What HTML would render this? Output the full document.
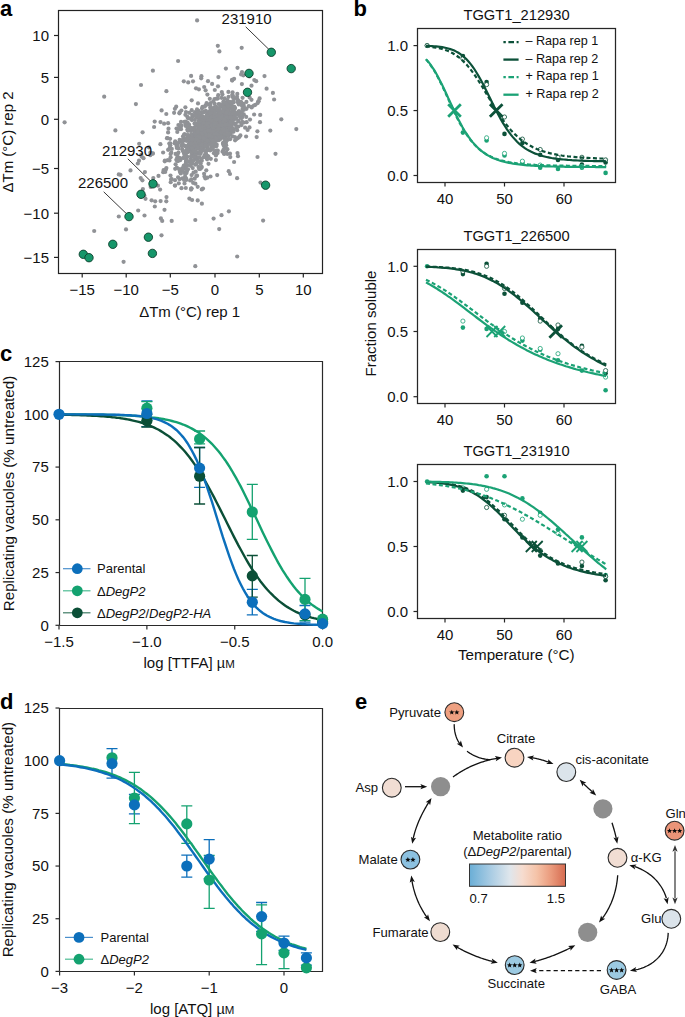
<!DOCTYPE html>
<html><head><meta charset="utf-8"><style>
html,body{margin:0;padding:0;background:#fff;}
svg{display:block;font-family:"Liberation Sans", sans-serif;}
</style></head><body>
<svg width="685" height="1017" viewBox="0 0 685 1017">
<rect width="685" height="1017" fill="#fff"/>
<text x="0" y="15.6" font-size="22" text-anchor="start" fill="#000" font-weight="bold" font-style="normal" >a</text>
<rect x="58.5" y="10.5" width="264.0" height="263.0" fill="none" stroke="#222" stroke-width="1.2"/>
<line x1="82.2" y1="273.5" x2="82.2" y2="277.5" stroke="#222" stroke-width="1.2" />
<text x="82.2" y="295.2" font-size="15" text-anchor="middle" fill="#111" font-weight="normal" font-style="normal" >−15</text>
<line x1="126.2" y1="273.5" x2="126.2" y2="277.5" stroke="#222" stroke-width="1.2" />
<text x="126.2" y="295.2" font-size="15" text-anchor="middle" fill="#111" font-weight="normal" font-style="normal" >−10</text>
<line x1="170.3" y1="273.5" x2="170.3" y2="277.5" stroke="#222" stroke-width="1.2" />
<text x="170.3" y="295.2" font-size="15" text-anchor="middle" fill="#111" font-weight="normal" font-style="normal" >−5</text>
<line x1="215" y1="273.5" x2="215" y2="277.5" stroke="#222" stroke-width="1.2" />
<text x="215" y="295.2" font-size="15" text-anchor="middle" fill="#111" font-weight="normal" font-style="normal" >0</text>
<line x1="259.3" y1="273.5" x2="259.3" y2="277.5" stroke="#222" stroke-width="1.2" />
<text x="259.3" y="295.2" font-size="15" text-anchor="middle" fill="#111" font-weight="normal" font-style="normal" >5</text>
<line x1="303.3" y1="273.5" x2="303.3" y2="277.5" stroke="#222" stroke-width="1.2" />
<text x="303.3" y="295.2" font-size="15" text-anchor="middle" fill="#111" font-weight="normal" font-style="normal" >10</text>
<line x1="54" y1="35.5" x2="58.5" y2="35.5" stroke="#222" stroke-width="1.2" />
<text x="49" y="40.8" font-size="15" text-anchor="end" fill="#111" font-weight="normal" font-style="normal" >10</text>
<line x1="54" y1="77.4" x2="58.5" y2="77.4" stroke="#222" stroke-width="1.2" />
<text x="49" y="82.7" font-size="15" text-anchor="end" fill="#111" font-weight="normal" font-style="normal" >5</text>
<line x1="54" y1="119.3" x2="58.5" y2="119.3" stroke="#222" stroke-width="1.2" />
<text x="49" y="124.6" font-size="15" text-anchor="end" fill="#111" font-weight="normal" font-style="normal" >0</text>
<line x1="54" y1="168.5" x2="58.5" y2="168.5" stroke="#222" stroke-width="1.2" />
<text x="49" y="173.8" font-size="15" text-anchor="end" fill="#111" font-weight="normal" font-style="normal" >−5</text>
<line x1="54" y1="213.2" x2="58.5" y2="213.2" stroke="#222" stroke-width="1.2" />
<text x="49" y="218.5" font-size="15" text-anchor="end" fill="#111" font-weight="normal" font-style="normal" >−10</text>
<line x1="54" y1="257.4" x2="58.5" y2="257.4" stroke="#222" stroke-width="1.2" />
<text x="49" y="262.7" font-size="15" text-anchor="end" fill="#111" font-weight="normal" font-style="normal" >−15</text>
<text x="189.7" y="316.6" font-size="15" text-anchor="middle" fill="#111" font-weight="normal" font-style="normal" >ΔTm (°C) rep 1</text>
<text transform="translate(12.6,142) rotate(-90)" x="0" y="0" font-size="15" text-anchor="middle" fill="#111">ΔTm (°C) rep 2</text>
<g fill="#909296">
<circle cx="209.4" cy="122.2" r="2.1"/>
<circle cx="218.1" cy="124.0" r="2.1"/>
<circle cx="207.3" cy="128.3" r="2.1"/>
<circle cx="199.8" cy="138.2" r="2.1"/>
<circle cx="203.2" cy="128.7" r="2.1"/>
<circle cx="198.7" cy="140.1" r="2.1"/>
<circle cx="207.3" cy="117.8" r="2.1"/>
<circle cx="230.0" cy="108.3" r="2.1"/>
<circle cx="204.0" cy="130.9" r="2.1"/>
<circle cx="202.1" cy="132.5" r="2.1"/>
<circle cx="228.1" cy="131.1" r="2.1"/>
<circle cx="219.2" cy="123.6" r="2.1"/>
<circle cx="216.1" cy="127.6" r="2.1"/>
<circle cx="198.7" cy="138.0" r="2.1"/>
<circle cx="220.2" cy="137.3" r="2.1"/>
<circle cx="214.3" cy="108.2" r="2.1"/>
<circle cx="193.3" cy="144.3" r="2.1"/>
<circle cx="213.2" cy="141.9" r="2.1"/>
<circle cx="195.2" cy="164.7" r="2.1"/>
<circle cx="196.2" cy="146.3" r="2.1"/>
<circle cx="187.2" cy="152.3" r="2.1"/>
<circle cx="213.8" cy="135.4" r="2.1"/>
<circle cx="194.5" cy="143.3" r="2.1"/>
<circle cx="220.6" cy="128.2" r="2.1"/>
<circle cx="212.5" cy="121.1" r="2.1"/>
<circle cx="214.5" cy="134.8" r="2.1"/>
<circle cx="177.2" cy="160.9" r="2.1"/>
<circle cx="200.1" cy="127.3" r="2.1"/>
<circle cx="198.5" cy="110.9" r="2.1"/>
<circle cx="220.3" cy="132.9" r="2.1"/>
<circle cx="193.7" cy="150.8" r="2.1"/>
<circle cx="210.9" cy="139.5" r="2.1"/>
<circle cx="194.9" cy="134.6" r="2.1"/>
<circle cx="207.8" cy="146.1" r="2.1"/>
<circle cx="231.0" cy="117.0" r="2.1"/>
<circle cx="201.8" cy="138.1" r="2.1"/>
<circle cx="218.1" cy="134.6" r="2.1"/>
<circle cx="231.0" cy="122.3" r="2.1"/>
<circle cx="207.4" cy="138.3" r="2.1"/>
<circle cx="223.0" cy="143.7" r="2.1"/>
<circle cx="222.6" cy="136.1" r="2.1"/>
<circle cx="216.4" cy="129.3" r="2.1"/>
<circle cx="194.8" cy="142.4" r="2.1"/>
<circle cx="215.3" cy="127.5" r="2.1"/>
<circle cx="242.2" cy="121.8" r="2.1"/>
<circle cx="193.5" cy="151.0" r="2.1"/>
<circle cx="221.2" cy="111.4" r="2.1"/>
<circle cx="211.9" cy="121.6" r="2.1"/>
<circle cx="204.4" cy="136.3" r="2.1"/>
<circle cx="246.5" cy="108.8" r="2.1"/>
<circle cx="220.7" cy="113.5" r="2.1"/>
<circle cx="199.1" cy="147.2" r="2.1"/>
<circle cx="220.6" cy="134.6" r="2.1"/>
<circle cx="225.8" cy="125.3" r="2.1"/>
<circle cx="202.6" cy="119.3" r="2.1"/>
<circle cx="221.8" cy="116.9" r="2.1"/>
<circle cx="205.9" cy="119.8" r="2.1"/>
<circle cx="225.3" cy="121.7" r="2.1"/>
<circle cx="228.7" cy="104.0" r="2.1"/>
<circle cx="206.8" cy="140.5" r="2.1"/>
<circle cx="217.0" cy="125.6" r="2.1"/>
<circle cx="193.0" cy="116.1" r="2.1"/>
<circle cx="210.9" cy="120.0" r="2.1"/>
<circle cx="198.9" cy="146.5" r="2.1"/>
<circle cx="205.3" cy="135.5" r="2.1"/>
<circle cx="208.6" cy="127.4" r="2.1"/>
<circle cx="219.5" cy="108.5" r="2.1"/>
<circle cx="232.2" cy="116.0" r="2.1"/>
<circle cx="203.7" cy="157.2" r="2.1"/>
<circle cx="203.3" cy="139.7" r="2.1"/>
<circle cx="222.4" cy="118.6" r="2.1"/>
<circle cx="184.0" cy="152.9" r="2.1"/>
<circle cx="199.4" cy="123.9" r="2.1"/>
<circle cx="210.1" cy="126.2" r="2.1"/>
<circle cx="226.7" cy="106.8" r="2.1"/>
<circle cx="229.0" cy="125.9" r="2.1"/>
<circle cx="203.8" cy="125.3" r="2.1"/>
<circle cx="196.5" cy="117.4" r="2.1"/>
<circle cx="205.4" cy="125.0" r="2.1"/>
<circle cx="233.6" cy="107.2" r="2.1"/>
<circle cx="206.2" cy="131.8" r="2.1"/>
<circle cx="199.1" cy="118.5" r="2.1"/>
<circle cx="223.3" cy="129.1" r="2.1"/>
<circle cx="212.1" cy="129.6" r="2.1"/>
<circle cx="207.9" cy="126.5" r="2.1"/>
<circle cx="193.1" cy="136.6" r="2.1"/>
<circle cx="215.4" cy="130.5" r="2.1"/>
<circle cx="205.2" cy="130.9" r="2.1"/>
<circle cx="231.4" cy="114.5" r="2.1"/>
<circle cx="221.9" cy="117.9" r="2.1"/>
<circle cx="213.6" cy="128.4" r="2.1"/>
<circle cx="228.9" cy="126.5" r="2.1"/>
<circle cx="208.4" cy="131.8" r="2.1"/>
<circle cx="223.5" cy="108.8" r="2.1"/>
<circle cx="218.4" cy="134.2" r="2.1"/>
<circle cx="222.8" cy="121.1" r="2.1"/>
<circle cx="191.0" cy="139.6" r="2.1"/>
<circle cx="224.0" cy="130.2" r="2.1"/>
<circle cx="187.9" cy="148.3" r="2.1"/>
<circle cx="189.7" cy="161.8" r="2.1"/>
<circle cx="202.6" cy="123.1" r="2.1"/>
<circle cx="187.6" cy="122.6" r="2.1"/>
<circle cx="204.5" cy="111.8" r="2.1"/>
<circle cx="246.4" cy="101.9" r="2.1"/>
<circle cx="197.2" cy="132.9" r="2.1"/>
<circle cx="203.6" cy="134.6" r="2.1"/>
<circle cx="215.6" cy="123.7" r="2.1"/>
<circle cx="211.9" cy="111.0" r="2.1"/>
<circle cx="217.9" cy="139.0" r="2.1"/>
<circle cx="204.5" cy="122.4" r="2.1"/>
<circle cx="223.5" cy="118.4" r="2.1"/>
<circle cx="213.0" cy="111.5" r="2.1"/>
<circle cx="197.3" cy="139.6" r="2.1"/>
<circle cx="215.7" cy="133.0" r="2.1"/>
<circle cx="212.2" cy="124.7" r="2.1"/>
<circle cx="194.0" cy="135.9" r="2.1"/>
<circle cx="216.7" cy="123.5" r="2.1"/>
<circle cx="198.2" cy="135.1" r="2.1"/>
<circle cx="229.9" cy="118.2" r="2.1"/>
<circle cx="227.5" cy="139.9" r="2.1"/>
<circle cx="209.6" cy="119.5" r="2.1"/>
<circle cx="200.9" cy="130.0" r="2.1"/>
<circle cx="210.7" cy="127.7" r="2.1"/>
<circle cx="184.1" cy="153.2" r="2.1"/>
<circle cx="191.3" cy="134.8" r="2.1"/>
<circle cx="220.9" cy="125.6" r="2.1"/>
<circle cx="186.5" cy="160.5" r="2.1"/>
<circle cx="226.3" cy="117.6" r="2.1"/>
<circle cx="181.6" cy="141.8" r="2.1"/>
<circle cx="231.5" cy="127.1" r="2.1"/>
<circle cx="194.5" cy="129.9" r="2.1"/>
<circle cx="227.8" cy="121.4" r="2.1"/>
<circle cx="221.0" cy="133.3" r="2.1"/>
<circle cx="184.2" cy="138.6" r="2.1"/>
<circle cx="231.6" cy="112.5" r="2.1"/>
<circle cx="240.8" cy="117.6" r="2.1"/>
<circle cx="214.2" cy="130.6" r="2.1"/>
<circle cx="204.2" cy="124.1" r="2.1"/>
<circle cx="204.4" cy="120.8" r="2.1"/>
<circle cx="201.5" cy="143.2" r="2.1"/>
<circle cx="226.7" cy="111.1" r="2.1"/>
<circle cx="201.5" cy="129.3" r="2.1"/>
<circle cx="216.0" cy="132.5" r="2.1"/>
<circle cx="199.9" cy="135.2" r="2.1"/>
<circle cx="204.4" cy="135.7" r="2.1"/>
<circle cx="197.8" cy="148.0" r="2.1"/>
<circle cx="233.8" cy="114.8" r="2.1"/>
<circle cx="210.6" cy="128.7" r="2.1"/>
<circle cx="226.8" cy="114.9" r="2.1"/>
<circle cx="216.5" cy="131.0" r="2.1"/>
<circle cx="205.6" cy="139.4" r="2.1"/>
<circle cx="202.4" cy="123.5" r="2.1"/>
<circle cx="204.0" cy="133.1" r="2.1"/>
<circle cx="208.5" cy="120.7" r="2.1"/>
<circle cx="201.3" cy="123.6" r="2.1"/>
<circle cx="205.7" cy="126.9" r="2.1"/>
<circle cx="181.0" cy="129.2" r="2.1"/>
<circle cx="206.1" cy="143.8" r="2.1"/>
<circle cx="232.4" cy="102.4" r="2.1"/>
<circle cx="205.3" cy="138.4" r="2.1"/>
<circle cx="187.9" cy="127.9" r="2.1"/>
<circle cx="208.8" cy="111.8" r="2.1"/>
<circle cx="243.9" cy="122.5" r="2.1"/>
<circle cx="197.6" cy="153.4" r="2.1"/>
<circle cx="206.6" cy="125.2" r="2.1"/>
<circle cx="199.8" cy="129.9" r="2.1"/>
<circle cx="183.9" cy="145.3" r="2.1"/>
<circle cx="224.1" cy="118.1" r="2.1"/>
<circle cx="210.4" cy="124.2" r="2.1"/>
<circle cx="210.7" cy="121.5" r="2.1"/>
<circle cx="202.8" cy="137.7" r="2.1"/>
<circle cx="214.1" cy="114.6" r="2.1"/>
<circle cx="217.8" cy="150.5" r="2.1"/>
<circle cx="207.7" cy="124.5" r="2.1"/>
<circle cx="202.9" cy="149.3" r="2.1"/>
<circle cx="190.5" cy="136.5" r="2.1"/>
<circle cx="233.5" cy="112.3" r="2.1"/>
<circle cx="210.8" cy="140.3" r="2.1"/>
<circle cx="215.4" cy="120.6" r="2.1"/>
<circle cx="217.7" cy="134.1" r="2.1"/>
<circle cx="211.9" cy="139.6" r="2.1"/>
<circle cx="214.5" cy="145.1" r="2.1"/>
<circle cx="222.4" cy="119.0" r="2.1"/>
<circle cx="206.2" cy="127.6" r="2.1"/>
<circle cx="205.4" cy="121.9" r="2.1"/>
<circle cx="214.3" cy="127.9" r="2.1"/>
<circle cx="224.3" cy="106.3" r="2.1"/>
<circle cx="222.8" cy="118.2" r="2.1"/>
<circle cx="219.2" cy="122.8" r="2.1"/>
<circle cx="202.0" cy="130.6" r="2.1"/>
<circle cx="187.6" cy="137.9" r="2.1"/>
<circle cx="228.6" cy="117.3" r="2.1"/>
<circle cx="228.3" cy="116.6" r="2.1"/>
<circle cx="212.1" cy="130.2" r="2.1"/>
<circle cx="220.5" cy="119.4" r="2.1"/>
<circle cx="229.2" cy="123.2" r="2.1"/>
<circle cx="219.5" cy="110.3" r="2.1"/>
<circle cx="228.5" cy="118.0" r="2.1"/>
<circle cx="204.1" cy="129.9" r="2.1"/>
<circle cx="239.3" cy="113.9" r="2.1"/>
<circle cx="193.3" cy="141.2" r="2.1"/>
<circle cx="223.4" cy="113.9" r="2.1"/>
<circle cx="222.5" cy="123.6" r="2.1"/>
<circle cx="214.7" cy="103.8" r="2.1"/>
<circle cx="238.0" cy="102.5" r="2.1"/>
<circle cx="224.8" cy="98.4" r="2.1"/>
<circle cx="191.5" cy="135.5" r="2.1"/>
<circle cx="192.5" cy="154.3" r="2.1"/>
<circle cx="226.9" cy="119.1" r="2.1"/>
<circle cx="196.2" cy="137.5" r="2.1"/>
<circle cx="212.7" cy="126.9" r="2.1"/>
<circle cx="224.9" cy="116.2" r="2.1"/>
<circle cx="191.1" cy="151.1" r="2.1"/>
<circle cx="192.7" cy="168.1" r="2.1"/>
<circle cx="218.1" cy="125.3" r="2.1"/>
<circle cx="225.9" cy="142.5" r="2.1"/>
<circle cx="207.6" cy="127.8" r="2.1"/>
<circle cx="217.7" cy="131.9" r="2.1"/>
<circle cx="204.7" cy="143.7" r="2.1"/>
<circle cx="192.6" cy="148.8" r="2.1"/>
<circle cx="209.3" cy="127.4" r="2.1"/>
<circle cx="207.1" cy="150.3" r="2.1"/>
<circle cx="199.1" cy="161.5" r="2.1"/>
<circle cx="226.2" cy="128.1" r="2.1"/>
<circle cx="223.4" cy="142.6" r="2.1"/>
<circle cx="224.3" cy="128.7" r="2.1"/>
<circle cx="190.3" cy="128.9" r="2.1"/>
<circle cx="209.5" cy="143.5" r="2.1"/>
<circle cx="195.3" cy="135.8" r="2.1"/>
<circle cx="207.9" cy="148.8" r="2.1"/>
<circle cx="214.4" cy="122.4" r="2.1"/>
<circle cx="203.7" cy="139.9" r="2.1"/>
<circle cx="218.6" cy="122.9" r="2.1"/>
<circle cx="215.0" cy="118.7" r="2.1"/>
<circle cx="232.6" cy="92.4" r="2.1"/>
<circle cx="192.1" cy="144.3" r="2.1"/>
<circle cx="225.2" cy="115.2" r="2.1"/>
<circle cx="217.2" cy="135.3" r="2.1"/>
<circle cx="209.8" cy="123.2" r="2.1"/>
<circle cx="193.7" cy="148.2" r="2.1"/>
<circle cx="202.1" cy="127.3" r="2.1"/>
<circle cx="224.1" cy="117.9" r="2.1"/>
<circle cx="202.5" cy="116.3" r="2.1"/>
<circle cx="225.1" cy="140.3" r="2.1"/>
<circle cx="210.7" cy="133.2" r="2.1"/>
<circle cx="224.9" cy="107.6" r="2.1"/>
<circle cx="214.8" cy="130.0" r="2.1"/>
<circle cx="185.9" cy="162.1" r="2.1"/>
<circle cx="204.7" cy="138.3" r="2.1"/>
<circle cx="192.4" cy="163.2" r="2.1"/>
<circle cx="165.9" cy="169.4" r="2.1"/>
<circle cx="192.3" cy="117.1" r="2.1"/>
<circle cx="226.0" cy="103.9" r="2.1"/>
<circle cx="219.9" cy="134.5" r="2.1"/>
<circle cx="201.1" cy="149.0" r="2.1"/>
<circle cx="201.9" cy="142.6" r="2.1"/>
<circle cx="223.9" cy="107.1" r="2.1"/>
<circle cx="219.9" cy="131.0" r="2.1"/>
<circle cx="217.6" cy="131.5" r="2.1"/>
<circle cx="207.6" cy="121.5" r="2.1"/>
<circle cx="209.0" cy="120.5" r="2.1"/>
<circle cx="226.7" cy="119.2" r="2.1"/>
<circle cx="227.2" cy="127.8" r="2.1"/>
<circle cx="224.7" cy="135.4" r="2.1"/>
<circle cx="202.0" cy="146.0" r="2.1"/>
<circle cx="232.6" cy="136.4" r="2.1"/>
<circle cx="199.3" cy="130.9" r="2.1"/>
<circle cx="232.2" cy="117.5" r="2.1"/>
<circle cx="192.3" cy="140.6" r="2.1"/>
<circle cx="201.0" cy="116.2" r="2.1"/>
<circle cx="206.7" cy="118.9" r="2.1"/>
<circle cx="200.4" cy="153.0" r="2.1"/>
<circle cx="233.1" cy="101.2" r="2.1"/>
<circle cx="227.8" cy="102.4" r="2.1"/>
<circle cx="210.6" cy="138.7" r="2.1"/>
<circle cx="229.4" cy="123.7" r="2.1"/>
<circle cx="219.2" cy="122.9" r="2.1"/>
<circle cx="184.4" cy="172.9" r="2.1"/>
<circle cx="208.8" cy="114.2" r="2.1"/>
<circle cx="225.4" cy="145.2" r="2.1"/>
<circle cx="220.4" cy="134.0" r="2.1"/>
<circle cx="199.2" cy="143.4" r="2.1"/>
<circle cx="210.6" cy="132.4" r="2.1"/>
<circle cx="209.7" cy="128.4" r="2.1"/>
<circle cx="228.7" cy="110.9" r="2.1"/>
<circle cx="219.2" cy="124.3" r="2.1"/>
<circle cx="206.9" cy="119.1" r="2.1"/>
<circle cx="246.6" cy="122.2" r="2.1"/>
<circle cx="205.2" cy="134.5" r="2.1"/>
<circle cx="211.5" cy="137.5" r="2.1"/>
<circle cx="186.4" cy="150.4" r="2.1"/>
<circle cx="234.4" cy="106.9" r="2.1"/>
<circle cx="231.9" cy="120.9" r="2.1"/>
<circle cx="229.8" cy="119.6" r="2.1"/>
<circle cx="218.5" cy="113.6" r="2.1"/>
<circle cx="212.9" cy="123.2" r="2.1"/>
<circle cx="220.0" cy="129.2" r="2.1"/>
<circle cx="198.5" cy="116.4" r="2.1"/>
<circle cx="197.7" cy="114.2" r="2.1"/>
<circle cx="221.9" cy="136.9" r="2.1"/>
<circle cx="233.1" cy="107.1" r="2.1"/>
<circle cx="207.5" cy="104.4" r="2.1"/>
<circle cx="208.1" cy="122.3" r="2.1"/>
<circle cx="203.7" cy="133.3" r="2.1"/>
<circle cx="205.2" cy="137.1" r="2.1"/>
<circle cx="239.0" cy="111.2" r="2.1"/>
<circle cx="221.6" cy="122.0" r="2.1"/>
<circle cx="217.2" cy="130.2" r="2.1"/>
<circle cx="204.2" cy="126.4" r="2.1"/>
<circle cx="199.4" cy="144.8" r="2.1"/>
<circle cx="214.7" cy="131.2" r="2.1"/>
<circle cx="232.2" cy="124.2" r="2.1"/>
<circle cx="207.8" cy="132.7" r="2.1"/>
<circle cx="214.8" cy="136.6" r="2.1"/>
<circle cx="211.0" cy="131.4" r="2.1"/>
<circle cx="209.1" cy="118.4" r="2.1"/>
<circle cx="188.3" cy="145.7" r="2.1"/>
<circle cx="207.1" cy="126.7" r="2.1"/>
<circle cx="199.0" cy="136.0" r="2.1"/>
<circle cx="225.5" cy="115.6" r="2.1"/>
<circle cx="202.8" cy="138.3" r="2.1"/>
<circle cx="223.1" cy="121.7" r="2.1"/>
<circle cx="230.8" cy="104.1" r="2.1"/>
<circle cx="214.6" cy="139.1" r="2.1"/>
<circle cx="197.2" cy="125.6" r="2.1"/>
<circle cx="215.8" cy="124.4" r="2.1"/>
<circle cx="217.2" cy="132.6" r="2.1"/>
<circle cx="201.6" cy="143.9" r="2.1"/>
<circle cx="223.5" cy="125.9" r="2.1"/>
<circle cx="241.1" cy="102.2" r="2.1"/>
<circle cx="213.4" cy="135.7" r="2.1"/>
<circle cx="204.1" cy="121.7" r="2.1"/>
<circle cx="202.5" cy="146.6" r="2.1"/>
<circle cx="230.1" cy="139.2" r="2.1"/>
<circle cx="199.3" cy="149.0" r="2.1"/>
<circle cx="208.3" cy="156.3" r="2.1"/>
<circle cx="231.7" cy="111.8" r="2.1"/>
<circle cx="194.4" cy="131.6" r="2.1"/>
<circle cx="225.1" cy="109.8" r="2.1"/>
<circle cx="242.2" cy="116.9" r="2.1"/>
<circle cx="221.0" cy="129.2" r="2.1"/>
<circle cx="211.5" cy="108.9" r="2.1"/>
<circle cx="239.3" cy="102.0" r="2.1"/>
<circle cx="210.4" cy="129.8" r="2.1"/>
<circle cx="198.9" cy="127.5" r="2.1"/>
<circle cx="180.4" cy="127.6" r="2.1"/>
<circle cx="206.7" cy="117.6" r="2.1"/>
<circle cx="233.6" cy="108.4" r="2.1"/>
<circle cx="225.0" cy="113.0" r="2.1"/>
<circle cx="196.3" cy="135.3" r="2.1"/>
<circle cx="204.3" cy="142.9" r="2.1"/>
<circle cx="211.7" cy="141.5" r="2.1"/>
<circle cx="217.1" cy="122.9" r="2.1"/>
<circle cx="215.4" cy="136.7" r="2.1"/>
<circle cx="216.6" cy="124.8" r="2.1"/>
<circle cx="216.9" cy="122.5" r="2.1"/>
<circle cx="196.1" cy="115.1" r="2.1"/>
<circle cx="217.3" cy="133.8" r="2.1"/>
<circle cx="216.8" cy="125.3" r="2.1"/>
<circle cx="212.9" cy="129.5" r="2.1"/>
<circle cx="218.0" cy="117.6" r="2.1"/>
<circle cx="234.2" cy="98.5" r="2.1"/>
<circle cx="224.3" cy="122.8" r="2.1"/>
<circle cx="218.5" cy="132.3" r="2.1"/>
<circle cx="197.9" cy="161.3" r="2.1"/>
<circle cx="223.8" cy="128.7" r="2.1"/>
<circle cx="182.3" cy="149.2" r="2.1"/>
<circle cx="192.7" cy="145.6" r="2.1"/>
<circle cx="230.9" cy="123.1" r="2.1"/>
<circle cx="225.3" cy="120.5" r="2.1"/>
<circle cx="210.9" cy="128.9" r="2.1"/>
<circle cx="185.9" cy="146.3" r="2.1"/>
<circle cx="211.1" cy="136.4" r="2.1"/>
<circle cx="204.8" cy="138.0" r="2.1"/>
<circle cx="232.1" cy="131.7" r="2.1"/>
<circle cx="251.6" cy="107.5" r="2.1"/>
<circle cx="207.5" cy="113.7" r="2.1"/>
<circle cx="213.9" cy="153.2" r="2.1"/>
<circle cx="198.2" cy="145.1" r="2.1"/>
<circle cx="211.2" cy="126.3" r="2.1"/>
<circle cx="212.7" cy="132.2" r="2.1"/>
<circle cx="201.1" cy="148.3" r="2.1"/>
<circle cx="215.2" cy="126.1" r="2.1"/>
<circle cx="196.7" cy="142.5" r="2.1"/>
<circle cx="229.5" cy="113.9" r="2.1"/>
<circle cx="238.5" cy="126.5" r="2.1"/>
<circle cx="229.5" cy="114.6" r="2.1"/>
<circle cx="211.1" cy="139.6" r="2.1"/>
<circle cx="223.5" cy="124.3" r="2.1"/>
<circle cx="210.1" cy="127.3" r="2.1"/>
<circle cx="204.1" cy="127.7" r="2.1"/>
<circle cx="203.4" cy="125.3" r="2.1"/>
<circle cx="197.2" cy="148.0" r="2.1"/>
<circle cx="187.4" cy="139.7" r="2.1"/>
<circle cx="218.2" cy="109.9" r="2.1"/>
<circle cx="204.3" cy="121.6" r="2.1"/>
<circle cx="208.7" cy="115.1" r="2.1"/>
<circle cx="228.3" cy="115.6" r="2.1"/>
<circle cx="189.2" cy="151.4" r="2.1"/>
<circle cx="197.4" cy="131.7" r="2.1"/>
<circle cx="223.1" cy="134.6" r="2.1"/>
<circle cx="217.7" cy="120.5" r="2.1"/>
<circle cx="210.7" cy="136.0" r="2.1"/>
<circle cx="229.9" cy="116.6" r="2.1"/>
<circle cx="225.6" cy="136.8" r="2.1"/>
<circle cx="200.6" cy="149.7" r="2.1"/>
<circle cx="199.9" cy="139.7" r="2.1"/>
<circle cx="219.9" cy="111.5" r="2.1"/>
<circle cx="214.5" cy="114.7" r="2.1"/>
<circle cx="186.3" cy="153.0" r="2.1"/>
<circle cx="233.5" cy="111.9" r="2.1"/>
<circle cx="226.2" cy="125.2" r="2.1"/>
<circle cx="230.2" cy="108.4" r="2.1"/>
<circle cx="209.0" cy="134.0" r="2.1"/>
<circle cx="205.7" cy="126.8" r="2.1"/>
<circle cx="187.4" cy="129.6" r="2.1"/>
<circle cx="249.6" cy="97.5" r="2.1"/>
<circle cx="218.8" cy="140.2" r="2.1"/>
<circle cx="240.5" cy="113.3" r="2.1"/>
<circle cx="211.9" cy="146.2" r="2.1"/>
<circle cx="222.0" cy="133.6" r="2.1"/>
<circle cx="182.0" cy="140.0" r="2.1"/>
<circle cx="206.5" cy="130.6" r="2.1"/>
<circle cx="235.5" cy="125.0" r="2.1"/>
<circle cx="191.6" cy="139.1" r="2.1"/>
<circle cx="221.7" cy="106.2" r="2.1"/>
<circle cx="220.0" cy="125.3" r="2.1"/>
<circle cx="201.9" cy="145.9" r="2.1"/>
<circle cx="207.8" cy="136.3" r="2.1"/>
<circle cx="205.1" cy="131.2" r="2.1"/>
<circle cx="209.0" cy="123.2" r="2.1"/>
<circle cx="199.0" cy="125.8" r="2.1"/>
<circle cx="194.7" cy="129.5" r="2.1"/>
<circle cx="202.4" cy="122.7" r="2.1"/>
<circle cx="191.0" cy="131.1" r="2.1"/>
<circle cx="191.1" cy="139.6" r="2.1"/>
<circle cx="220.8" cy="138.8" r="2.1"/>
<circle cx="226.5" cy="116.8" r="2.1"/>
<circle cx="189.5" cy="145.2" r="2.1"/>
<circle cx="215.4" cy="129.9" r="2.1"/>
<circle cx="198.9" cy="129.3" r="2.1"/>
<circle cx="201.1" cy="142.7" r="2.1"/>
<circle cx="230.4" cy="122.5" r="2.1"/>
<circle cx="197.9" cy="123.7" r="2.1"/>
<circle cx="231.0" cy="105.0" r="2.1"/>
<circle cx="200.8" cy="136.0" r="2.1"/>
<circle cx="213.7" cy="116.0" r="2.1"/>
<circle cx="204.1" cy="122.6" r="2.1"/>
<circle cx="200.5" cy="134.7" r="2.1"/>
<circle cx="234.9" cy="137.0" r="2.1"/>
<circle cx="214.7" cy="134.1" r="2.1"/>
<circle cx="224.3" cy="122.4" r="2.1"/>
<circle cx="217.9" cy="134.8" r="2.1"/>
<circle cx="196.5" cy="140.2" r="2.1"/>
<circle cx="205.2" cy="120.0" r="2.1"/>
<circle cx="216.6" cy="130.0" r="2.1"/>
<circle cx="233.0" cy="122.6" r="2.1"/>
<circle cx="189.1" cy="124.7" r="2.1"/>
<circle cx="215.1" cy="130.9" r="2.1"/>
<circle cx="195.2" cy="158.9" r="2.1"/>
<circle cx="221.2" cy="117.2" r="2.1"/>
<circle cx="195.3" cy="138.5" r="2.1"/>
<circle cx="191.1" cy="156.2" r="2.1"/>
<circle cx="208.0" cy="122.3" r="2.1"/>
<circle cx="231.6" cy="116.5" r="2.1"/>
<circle cx="196.3" cy="154.0" r="2.1"/>
<circle cx="196.6" cy="140.3" r="2.1"/>
<circle cx="198.3" cy="131.5" r="2.1"/>
<circle cx="200.4" cy="146.7" r="2.1"/>
<circle cx="216.8" cy="119.8" r="2.1"/>
<circle cx="202.1" cy="138.6" r="2.1"/>
<circle cx="187.4" cy="116.9" r="2.1"/>
<circle cx="225.4" cy="124.5" r="2.1"/>
<circle cx="194.8" cy="127.3" r="2.1"/>
<circle cx="219.7" cy="121.8" r="2.1"/>
<circle cx="199.9" cy="141.0" r="2.1"/>
<circle cx="191.8" cy="138.1" r="2.1"/>
<circle cx="181.9" cy="145.1" r="2.1"/>
<circle cx="232.9" cy="97.2" r="2.1"/>
<circle cx="206.8" cy="129.1" r="2.1"/>
<circle cx="220.0" cy="128.2" r="2.1"/>
<circle cx="215.7" cy="131.4" r="2.1"/>
<circle cx="212.7" cy="121.4" r="2.1"/>
<circle cx="210.8" cy="122.4" r="2.1"/>
<circle cx="232.9" cy="95.9" r="2.1"/>
<circle cx="196.0" cy="138.0" r="2.1"/>
<circle cx="185.0" cy="140.3" r="2.1"/>
<circle cx="190.4" cy="129.8" r="2.1"/>
<circle cx="193.1" cy="143.7" r="2.1"/>
<circle cx="231.9" cy="127.9" r="2.1"/>
<circle cx="231.3" cy="124.7" r="2.1"/>
<circle cx="207.2" cy="150.2" r="2.1"/>
<circle cx="184.5" cy="134.2" r="2.1"/>
<circle cx="212.7" cy="138.0" r="2.1"/>
<circle cx="226.4" cy="102.8" r="2.1"/>
<circle cx="169.5" cy="160.4" r="2.1"/>
<circle cx="211.4" cy="109.6" r="2.1"/>
<circle cx="192.3" cy="134.3" r="2.1"/>
<circle cx="228.6" cy="114.9" r="2.1"/>
<circle cx="198.8" cy="142.9" r="2.1"/>
<circle cx="208.6" cy="130.4" r="2.1"/>
<circle cx="190.6" cy="145.9" r="2.1"/>
<circle cx="202.1" cy="144.0" r="2.1"/>
<circle cx="233.2" cy="110.5" r="2.1"/>
<circle cx="216.2" cy="106.9" r="2.1"/>
<circle cx="216.7" cy="144.7" r="2.1"/>
<circle cx="199.3" cy="136.9" r="2.1"/>
<circle cx="190.9" cy="158.8" r="2.1"/>
<circle cx="206.5" cy="131.1" r="2.1"/>
<circle cx="208.2" cy="121.6" r="2.1"/>
<circle cx="212.3" cy="128.7" r="2.1"/>
<circle cx="207.6" cy="122.9" r="2.1"/>
<circle cx="205.8" cy="153.5" r="2.1"/>
<circle cx="206.2" cy="120.1" r="2.1"/>
<circle cx="215.9" cy="132.0" r="2.1"/>
<circle cx="228.3" cy="107.6" r="2.1"/>
<circle cx="238.8" cy="103.8" r="2.1"/>
<circle cx="225.3" cy="147.5" r="2.1"/>
<circle cx="206.3" cy="142.8" r="2.1"/>
<circle cx="211.1" cy="126.5" r="2.1"/>
<circle cx="196.0" cy="124.1" r="2.1"/>
<circle cx="201.0" cy="135.0" r="2.1"/>
<circle cx="211.0" cy="126.1" r="2.1"/>
<circle cx="205.9" cy="151.1" r="2.1"/>
<circle cx="214.1" cy="110.4" r="2.1"/>
<circle cx="201.9" cy="116.2" r="2.1"/>
<circle cx="216.6" cy="123.6" r="2.1"/>
<circle cx="211.8" cy="131.2" r="2.1"/>
<circle cx="211.6" cy="148.4" r="2.1"/>
<circle cx="194.8" cy="133.4" r="2.1"/>
<circle cx="195.0" cy="112.2" r="2.1"/>
<circle cx="201.4" cy="129.3" r="2.1"/>
<circle cx="209.7" cy="115.7" r="2.1"/>
<circle cx="210.2" cy="123.3" r="2.1"/>
<circle cx="199.0" cy="152.3" r="2.1"/>
<circle cx="206.9" cy="117.1" r="2.1"/>
<circle cx="200.6" cy="153.8" r="2.1"/>
<circle cx="205.5" cy="136.9" r="2.1"/>
<circle cx="207.5" cy="129.1" r="2.1"/>
<circle cx="178.5" cy="148.4" r="2.1"/>
<circle cx="212.3" cy="123.0" r="2.1"/>
<circle cx="213.3" cy="122.4" r="2.1"/>
<circle cx="215.1" cy="134.7" r="2.1"/>
<circle cx="214.1" cy="142.0" r="2.1"/>
<circle cx="207.5" cy="131.7" r="2.1"/>
<circle cx="203.0" cy="145.2" r="2.1"/>
<circle cx="216.5" cy="140.1" r="2.1"/>
<circle cx="212.2" cy="143.6" r="2.1"/>
<circle cx="217.2" cy="129.5" r="2.1"/>
<circle cx="206.0" cy="156.4" r="2.1"/>
<circle cx="223.9" cy="133.7" r="2.1"/>
<circle cx="224.1" cy="137.0" r="2.1"/>
<circle cx="210.2" cy="127.7" r="2.1"/>
<circle cx="204.7" cy="130.1" r="2.1"/>
<circle cx="210.2" cy="107.5" r="2.1"/>
<circle cx="197.4" cy="160.0" r="2.1"/>
<circle cx="223.5" cy="125.9" r="2.1"/>
<circle cx="211.7" cy="117.7" r="2.1"/>
<circle cx="218.4" cy="125.0" r="2.1"/>
<circle cx="220.5" cy="124.4" r="2.1"/>
<circle cx="194.5" cy="123.6" r="2.1"/>
<circle cx="211.3" cy="133.0" r="2.1"/>
<circle cx="228.6" cy="127.0" r="2.1"/>
<circle cx="226.5" cy="130.9" r="2.1"/>
<circle cx="214.4" cy="122.0" r="2.1"/>
<circle cx="189.8" cy="145.1" r="2.1"/>
<circle cx="228.3" cy="129.9" r="2.1"/>
<circle cx="235.2" cy="118.8" r="2.1"/>
<circle cx="224.7" cy="111.3" r="2.1"/>
<circle cx="213.4" cy="119.9" r="2.1"/>
<circle cx="194.3" cy="152.5" r="2.1"/>
<circle cx="223.3" cy="111.5" r="2.1"/>
<circle cx="208.0" cy="125.0" r="2.1"/>
<circle cx="186.5" cy="173.1" r="2.1"/>
<circle cx="220.3" cy="124.4" r="2.1"/>
<circle cx="189.5" cy="144.0" r="2.1"/>
<circle cx="197.7" cy="148.5" r="2.1"/>
<circle cx="215.8" cy="150.9" r="2.1"/>
<circle cx="232.9" cy="113.3" r="2.1"/>
<circle cx="203.8" cy="126.7" r="2.1"/>
<circle cx="208.5" cy="113.3" r="2.1"/>
<circle cx="250.0" cy="119.6" r="2.1"/>
<circle cx="221.8" cy="92.0" r="2.1"/>
<circle cx="217.9" cy="136.6" r="2.1"/>
<circle cx="204.5" cy="123.5" r="2.1"/>
<circle cx="188.3" cy="135.1" r="2.1"/>
<circle cx="197.9" cy="129.4" r="2.1"/>
<circle cx="218.5" cy="120.5" r="2.1"/>
<circle cx="225.2" cy="130.2" r="2.1"/>
<circle cx="211.4" cy="121.2" r="2.1"/>
<circle cx="231.3" cy="119.1" r="2.1"/>
<circle cx="215.9" cy="155.5" r="2.1"/>
<circle cx="197.0" cy="109.4" r="2.1"/>
<circle cx="219.8" cy="113.4" r="2.1"/>
<circle cx="211.7" cy="108.3" r="2.1"/>
<circle cx="233.4" cy="119.5" r="2.1"/>
<circle cx="210.9" cy="112.6" r="2.1"/>
<circle cx="200.1" cy="119.9" r="2.1"/>
<circle cx="209.9" cy="112.4" r="2.1"/>
<circle cx="198.9" cy="140.6" r="2.1"/>
<circle cx="196.2" cy="157.6" r="2.1"/>
<circle cx="222.5" cy="120.7" r="2.1"/>
<circle cx="224.4" cy="143.7" r="2.1"/>
<circle cx="226.8" cy="135.3" r="2.1"/>
<circle cx="188.3" cy="149.1" r="2.1"/>
<circle cx="213.4" cy="139.1" r="2.1"/>
<circle cx="205.5" cy="136.3" r="2.1"/>
<circle cx="201.4" cy="139.4" r="2.1"/>
<circle cx="170.2" cy="143.3" r="2.1"/>
<circle cx="201.3" cy="122.3" r="2.1"/>
<circle cx="226.3" cy="116.1" r="2.1"/>
<circle cx="212.1" cy="114.3" r="2.1"/>
<circle cx="208.8" cy="140.7" r="2.1"/>
<circle cx="214.8" cy="129.8" r="2.1"/>
<circle cx="219.1" cy="111.9" r="2.1"/>
<circle cx="180.3" cy="172.3" r="2.1"/>
<circle cx="212.9" cy="130.8" r="2.1"/>
<circle cx="228.1" cy="129.4" r="2.1"/>
<circle cx="222.3" cy="117.6" r="2.1"/>
<circle cx="228.6" cy="96.8" r="2.1"/>
<circle cx="233.5" cy="117.8" r="2.1"/>
<circle cx="216.5" cy="121.4" r="2.1"/>
<circle cx="222.4" cy="129.6" r="2.1"/>
<circle cx="230.7" cy="125.0" r="2.1"/>
<circle cx="212.2" cy="143.2" r="2.1"/>
<circle cx="204.7" cy="117.6" r="2.1"/>
<circle cx="213.3" cy="101.3" r="2.1"/>
<circle cx="238.5" cy="100.9" r="2.1"/>
<circle cx="214.8" cy="134.4" r="2.1"/>
<circle cx="208.7" cy="122.8" r="2.1"/>
<circle cx="217.9" cy="126.9" r="2.1"/>
<circle cx="228.0" cy="105.9" r="2.1"/>
<circle cx="211.2" cy="125.5" r="2.1"/>
<circle cx="232.7" cy="107.7" r="2.1"/>
<circle cx="196.0" cy="135.7" r="2.1"/>
<circle cx="213.7" cy="133.8" r="2.1"/>
<circle cx="212.6" cy="132.7" r="2.1"/>
<circle cx="233.8" cy="129.1" r="2.1"/>
<circle cx="230.5" cy="116.9" r="2.1"/>
<circle cx="199.3" cy="157.4" r="2.1"/>
<circle cx="200.8" cy="140.4" r="2.1"/>
<circle cx="223.2" cy="129.6" r="2.1"/>
<circle cx="203.2" cy="135.2" r="2.1"/>
<circle cx="188.8" cy="144.1" r="2.1"/>
<circle cx="235.7" cy="123.5" r="2.1"/>
<circle cx="224.7" cy="126.4" r="2.1"/>
<circle cx="225.4" cy="127.4" r="2.1"/>
<circle cx="202.3" cy="128.1" r="2.1"/>
<circle cx="218.7" cy="104.0" r="2.1"/>
<circle cx="205.1" cy="124.3" r="2.1"/>
<circle cx="230.7" cy="115.7" r="2.1"/>
<circle cx="192.1" cy="128.8" r="2.1"/>
<circle cx="209.2" cy="149.4" r="2.1"/>
<circle cx="208.0" cy="114.5" r="2.1"/>
<circle cx="206.7" cy="141.2" r="2.1"/>
<circle cx="237.9" cy="138.1" r="2.1"/>
<circle cx="202.5" cy="106.9" r="2.1"/>
<circle cx="191.3" cy="128.1" r="2.1"/>
<circle cx="219.8" cy="133.6" r="2.1"/>
<circle cx="207.2" cy="130.6" r="2.1"/>
<circle cx="227.4" cy="117.0" r="2.1"/>
<circle cx="203.6" cy="134.8" r="2.1"/>
<circle cx="215.0" cy="143.6" r="2.1"/>
<circle cx="234.2" cy="116.5" r="2.1"/>
<circle cx="242.6" cy="97.8" r="2.1"/>
<circle cx="240.5" cy="102.0" r="2.1"/>
<circle cx="207.6" cy="118.0" r="2.1"/>
<circle cx="215.9" cy="123.7" r="2.1"/>
<circle cx="222.4" cy="94.3" r="2.1"/>
<circle cx="215.3" cy="134.0" r="2.1"/>
<circle cx="197.8" cy="138.3" r="2.1"/>
<circle cx="225.3" cy="139.3" r="2.1"/>
<circle cx="226.4" cy="130.1" r="2.1"/>
<circle cx="194.0" cy="128.7" r="2.1"/>
<circle cx="194.7" cy="155.8" r="2.1"/>
<circle cx="189.7" cy="142.5" r="2.1"/>
<circle cx="223.0" cy="118.9" r="2.1"/>
<circle cx="208.0" cy="144.7" r="2.1"/>
<circle cx="213.1" cy="131.5" r="2.1"/>
<circle cx="219.0" cy="128.0" r="2.1"/>
<circle cx="224.7" cy="122.4" r="2.1"/>
<circle cx="204.3" cy="126.2" r="2.1"/>
<circle cx="216.8" cy="116.4" r="2.1"/>
<circle cx="203.6" cy="143.1" r="2.1"/>
<circle cx="213.0" cy="138.5" r="2.1"/>
<circle cx="196.9" cy="138.8" r="2.1"/>
<circle cx="229.9" cy="113.8" r="2.1"/>
<circle cx="207.2" cy="120.2" r="2.1"/>
<circle cx="188.1" cy="118.2" r="2.1"/>
<circle cx="203.5" cy="125.8" r="2.1"/>
<circle cx="210.2" cy="130.4" r="2.1"/>
<circle cx="224.1" cy="119.1" r="2.1"/>
<circle cx="194.9" cy="154.5" r="2.1"/>
<circle cx="203.2" cy="147.4" r="2.1"/>
<circle cx="213.3" cy="139.4" r="2.1"/>
<circle cx="251.5" cy="99.8" r="2.1"/>
<circle cx="229.2" cy="117.8" r="2.1"/>
<circle cx="207.5" cy="123.3" r="2.1"/>
<circle cx="225.5" cy="120.6" r="2.1"/>
<circle cx="243.6" cy="103.9" r="2.1"/>
<circle cx="216.5" cy="139.0" r="2.1"/>
<circle cx="199.0" cy="120.3" r="2.1"/>
<circle cx="227.8" cy="109.2" r="2.1"/>
<circle cx="210.6" cy="109.5" r="2.1"/>
<circle cx="218.5" cy="113.6" r="2.1"/>
<circle cx="197.8" cy="123.3" r="2.1"/>
<circle cx="242.0" cy="105.8" r="2.1"/>
<circle cx="233.7" cy="102.3" r="2.1"/>
<circle cx="206.6" cy="103.1" r="2.1"/>
<circle cx="229.6" cy="126.8" r="2.1"/>
<circle cx="177.6" cy="145.7" r="2.1"/>
<circle cx="213.1" cy="108.4" r="2.1"/>
<circle cx="208.1" cy="126.7" r="2.1"/>
<circle cx="215.3" cy="116.4" r="2.1"/>
<circle cx="216.0" cy="110.5" r="2.1"/>
<circle cx="212.0" cy="136.5" r="2.1"/>
<circle cx="186.6" cy="146.6" r="2.1"/>
<circle cx="223.3" cy="128.6" r="2.1"/>
<circle cx="206.3" cy="142.0" r="2.1"/>
<circle cx="211.9" cy="136.1" r="2.1"/>
<circle cx="205.3" cy="136.2" r="2.1"/>
<circle cx="207.5" cy="130.6" r="2.1"/>
<circle cx="177.5" cy="154.5" r="2.1"/>
<circle cx="238.4" cy="121.4" r="2.1"/>
<circle cx="205.8" cy="110.8" r="2.1"/>
<circle cx="222.7" cy="106.2" r="2.1"/>
<circle cx="237.4" cy="99.1" r="2.1"/>
<circle cx="215.5" cy="129.5" r="2.1"/>
<circle cx="187.8" cy="151.8" r="2.1"/>
<circle cx="197.3" cy="135.0" r="2.1"/>
<circle cx="193.6" cy="140.2" r="2.1"/>
<circle cx="215.4" cy="146.2" r="2.1"/>
<circle cx="210.2" cy="120.7" r="2.1"/>
<circle cx="168.1" cy="132.4" r="2.1"/>
<circle cx="228.4" cy="136.2" r="2.1"/>
<circle cx="185.9" cy="139.9" r="2.1"/>
<circle cx="215.4" cy="120.5" r="2.1"/>
<circle cx="212.3" cy="129.4" r="2.1"/>
<circle cx="201.0" cy="121.3" r="2.1"/>
<circle cx="218.8" cy="136.8" r="2.1"/>
<circle cx="204.5" cy="133.1" r="2.1"/>
<circle cx="196.2" cy="124.6" r="2.1"/>
<circle cx="190.1" cy="151.0" r="2.1"/>
<circle cx="215.1" cy="130.6" r="2.1"/>
<circle cx="238.9" cy="104.4" r="2.1"/>
<circle cx="243.9" cy="106.4" r="2.1"/>
<circle cx="223.5" cy="101.4" r="2.1"/>
<circle cx="228.3" cy="124.5" r="2.1"/>
<circle cx="198.6" cy="129.7" r="2.1"/>
<circle cx="240.8" cy="117.5" r="2.1"/>
<circle cx="208.7" cy="123.0" r="2.1"/>
<circle cx="212.8" cy="128.9" r="2.1"/>
<circle cx="223.4" cy="150.1" r="2.1"/>
<circle cx="214.6" cy="126.0" r="2.1"/>
<circle cx="212.9" cy="140.8" r="2.1"/>
<circle cx="214.5" cy="131.6" r="2.1"/>
<circle cx="189.0" cy="130.3" r="2.1"/>
<circle cx="214.1" cy="140.4" r="2.1"/>
<circle cx="251.6" cy="106.9" r="2.1"/>
<circle cx="204.1" cy="117.8" r="2.1"/>
<circle cx="209.1" cy="129.5" r="2.1"/>
<circle cx="212.2" cy="110.3" r="2.1"/>
<circle cx="221.5" cy="116.0" r="2.1"/>
<circle cx="202.1" cy="148.5" r="2.1"/>
<circle cx="210.6" cy="130.4" r="2.1"/>
<circle cx="219.5" cy="107.9" r="2.1"/>
<circle cx="211.8" cy="117.1" r="2.1"/>
<circle cx="215.0" cy="125.5" r="2.1"/>
<circle cx="235.1" cy="108.1" r="2.1"/>
<circle cx="204.1" cy="137.0" r="2.1"/>
<circle cx="217.6" cy="130.3" r="2.1"/>
<circle cx="194.9" cy="119.9" r="2.1"/>
<circle cx="234.4" cy="109.1" r="2.1"/>
<circle cx="191.5" cy="161.4" r="2.1"/>
<circle cx="206.3" cy="139.6" r="2.1"/>
<circle cx="201.5" cy="128.9" r="2.1"/>
<circle cx="219.1" cy="114.5" r="2.1"/>
<circle cx="222.6" cy="120.1" r="2.1"/>
<circle cx="236.8" cy="114.4" r="2.1"/>
<circle cx="190.4" cy="147.9" r="2.1"/>
<circle cx="233.2" cy="129.5" r="2.1"/>
<circle cx="216.3" cy="140.7" r="2.1"/>
<circle cx="199.2" cy="130.1" r="2.1"/>
<circle cx="223.6" cy="123.5" r="2.1"/>
<circle cx="197.9" cy="136.6" r="2.1"/>
<circle cx="176.5" cy="145.8" r="2.1"/>
<circle cx="204.2" cy="127.3" r="2.1"/>
<circle cx="191.6" cy="146.9" r="2.1"/>
<circle cx="191.9" cy="120.1" r="2.1"/>
<circle cx="214.8" cy="117.6" r="2.1"/>
<circle cx="219.6" cy="125.6" r="2.1"/>
<circle cx="231.8" cy="103.5" r="2.1"/>
<circle cx="208.1" cy="126.8" r="2.1"/>
<circle cx="196.0" cy="153.8" r="2.1"/>
<circle cx="201.9" cy="136.7" r="2.1"/>
<circle cx="200.9" cy="140.6" r="2.1"/>
<circle cx="206.7" cy="157.8" r="2.1"/>
<circle cx="220.4" cy="122.7" r="2.1"/>
<circle cx="205.5" cy="137.8" r="2.1"/>
<circle cx="187.2" cy="156.7" r="2.1"/>
<circle cx="139.0" cy="160.7" r="2.1"/>
<circle cx="185.9" cy="139.1" r="2.1"/>
<circle cx="216.3" cy="154.5" r="2.1"/>
<circle cx="206.0" cy="135.0" r="2.1"/>
<circle cx="164.9" cy="160.6" r="2.1"/>
<circle cx="213.8" cy="114.1" r="2.1"/>
<circle cx="148.9" cy="147.3" r="2.1"/>
<circle cx="180.2" cy="125.3" r="2.1"/>
<circle cx="243.9" cy="109.8" r="2.1"/>
<circle cx="186.5" cy="159.0" r="2.1"/>
<circle cx="206.3" cy="170.3" r="2.1"/>
<circle cx="228.0" cy="106.1" r="2.1"/>
<circle cx="191.5" cy="146.9" r="2.1"/>
<circle cx="161.6" cy="110.4" r="2.1"/>
<circle cx="207.9" cy="130.3" r="2.1"/>
<circle cx="256.7" cy="137.1" r="2.1"/>
<circle cx="154.8" cy="206.5" r="2.1"/>
<circle cx="180.4" cy="160.1" r="2.1"/>
<circle cx="193.1" cy="182.8" r="2.1"/>
<circle cx="186.2" cy="179.9" r="2.1"/>
<circle cx="185.8" cy="167.5" r="2.1"/>
<circle cx="177.3" cy="157.2" r="2.1"/>
<circle cx="213.3" cy="131.7" r="2.1"/>
<circle cx="191.6" cy="175.1" r="2.1"/>
<circle cx="196.6" cy="123.5" r="2.1"/>
<circle cx="220.6" cy="134.1" r="2.1"/>
<circle cx="190.8" cy="165.8" r="2.1"/>
<circle cx="224.1" cy="153.5" r="2.1"/>
<circle cx="255.4" cy="104.8" r="2.1"/>
<circle cx="203.5" cy="119.7" r="2.1"/>
<circle cx="207.3" cy="177.7" r="2.1"/>
<circle cx="202.6" cy="140.8" r="2.1"/>
<circle cx="170.6" cy="154.1" r="2.1"/>
<circle cx="215.2" cy="135.5" r="2.1"/>
<circle cx="222.6" cy="111.5" r="2.1"/>
<circle cx="196.3" cy="176.1" r="2.1"/>
<circle cx="181.4" cy="125.7" r="2.1"/>
<circle cx="218.2" cy="95.2" r="2.1"/>
<circle cx="187.5" cy="148.9" r="2.1"/>
<circle cx="230.3" cy="157.1" r="2.1"/>
<circle cx="190.1" cy="180.5" r="2.1"/>
<circle cx="169.9" cy="147.7" r="2.1"/>
<circle cx="168.5" cy="128.7" r="2.1"/>
<circle cx="254.3" cy="80.1" r="2.1"/>
<circle cx="177.3" cy="132.0" r="2.1"/>
<circle cx="197.7" cy="161.2" r="2.1"/>
<circle cx="191.5" cy="156.3" r="2.1"/>
<circle cx="199.2" cy="142.6" r="2.1"/>
<circle cx="214.6" cy="114.7" r="2.1"/>
<circle cx="227.4" cy="154.0" r="2.1"/>
<circle cx="243.3" cy="75.3" r="2.1"/>
<circle cx="192.1" cy="114.5" r="2.1"/>
<circle cx="254.1" cy="114.5" r="2.1"/>
<circle cx="227.4" cy="149.2" r="2.1"/>
<circle cx="214.3" cy="116.7" r="2.1"/>
<circle cx="175.1" cy="185.6" r="2.1"/>
<circle cx="230.0" cy="174.0" r="2.1"/>
<circle cx="191.4" cy="128.7" r="2.1"/>
<circle cx="195.3" cy="142.6" r="2.1"/>
<circle cx="155.2" cy="201.3" r="2.1"/>
<circle cx="198.9" cy="89.3" r="2.1"/>
<circle cx="191.8" cy="146.8" r="2.1"/>
<circle cx="201.8" cy="160.7" r="2.1"/>
<circle cx="195.6" cy="143.7" r="2.1"/>
<circle cx="210.8" cy="158.8" r="2.1"/>
<circle cx="223.2" cy="137.3" r="2.1"/>
<circle cx="166.4" cy="168.0" r="2.1"/>
<circle cx="186.8" cy="171.3" r="2.1"/>
<circle cx="216.4" cy="136.2" r="2.1"/>
<circle cx="186.0" cy="112.0" r="2.1"/>
<circle cx="183.0" cy="136.5" r="2.1"/>
<circle cx="178.7" cy="142.8" r="2.1"/>
<circle cx="175.6" cy="153.9" r="2.1"/>
<circle cx="195.8" cy="132.9" r="2.1"/>
<circle cx="214.8" cy="90.0" r="2.1"/>
<circle cx="176.9" cy="167.7" r="2.1"/>
<circle cx="218.4" cy="77.1" r="2.1"/>
<circle cx="236.6" cy="127.7" r="2.1"/>
<circle cx="195.1" cy="154.2" r="2.1"/>
<circle cx="240.4" cy="135.4" r="2.1"/>
<circle cx="170.7" cy="182.2" r="2.1"/>
<circle cx="153.3" cy="178.0" r="2.1"/>
<circle cx="152.7" cy="153.7" r="2.1"/>
<circle cx="201.4" cy="158.6" r="2.1"/>
<circle cx="195.1" cy="147.0" r="2.1"/>
<circle cx="194.9" cy="157.3" r="2.1"/>
<circle cx="215.2" cy="145.5" r="2.1"/>
<circle cx="164.5" cy="209.8" r="2.1"/>
<circle cx="215.1" cy="123.4" r="2.1"/>
<circle cx="189.4" cy="198.6" r="2.1"/>
<circle cx="185.3" cy="154.9" r="2.1"/>
<circle cx="192.7" cy="149.2" r="2.1"/>
<circle cx="182.5" cy="178.3" r="2.1"/>
<circle cx="181.5" cy="188.2" r="2.1"/>
<circle cx="195.4" cy="183.7" r="2.1"/>
<circle cx="179.4" cy="113.3" r="2.1"/>
<circle cx="235.1" cy="140.3" r="2.1"/>
<circle cx="198.0" cy="103.4" r="2.1"/>
<circle cx="170.6" cy="157.3" r="2.1"/>
<circle cx="188.0" cy="165.1" r="2.1"/>
<circle cx="194.7" cy="178.7" r="2.1"/>
<circle cx="201.6" cy="112.2" r="2.1"/>
<circle cx="130.5" cy="170.4" r="2.1"/>
<circle cx="246.2" cy="116.9" r="2.1"/>
<circle cx="194.9" cy="155.6" r="2.1"/>
<circle cx="170.3" cy="145.2" r="2.1"/>
<circle cx="207.7" cy="123.9" r="2.1"/>
<circle cx="204.2" cy="87.0" r="2.1"/>
<circle cx="219.2" cy="136.4" r="2.1"/>
<circle cx="223.1" cy="103.8" r="2.1"/>
<circle cx="222.5" cy="151.7" r="2.1"/>
<circle cx="208.0" cy="81.2" r="2.1"/>
<circle cx="243.8" cy="114.4" r="2.1"/>
<circle cx="228.7" cy="171.2" r="2.1"/>
<circle cx="241.1" cy="102.6" r="2.1"/>
<circle cx="209.3" cy="135.4" r="2.1"/>
<circle cx="181.4" cy="110.5" r="2.1"/>
<circle cx="184.4" cy="168.4" r="2.1"/>
<circle cx="196.2" cy="146.2" r="2.1"/>
<circle cx="215.5" cy="109.8" r="2.1"/>
<circle cx="150.4" cy="152.5" r="2.1"/>
<circle cx="220.6" cy="120.8" r="2.1"/>
<circle cx="199.1" cy="114.6" r="2.1"/>
<circle cx="203.8" cy="123.1" r="2.1"/>
<circle cx="151.6" cy="200.3" r="2.1"/>
<circle cx="199.8" cy="139.8" r="2.1"/>
<circle cx="219.4" cy="119.6" r="2.1"/>
<circle cx="195.7" cy="171.7" r="2.1"/>
<circle cx="190.3" cy="118.7" r="2.1"/>
<circle cx="160.9" cy="218.4" r="2.1"/>
<circle cx="205.5" cy="105.4" r="2.1"/>
<circle cx="174.6" cy="143.2" r="2.1"/>
<circle cx="226.5" cy="115.7" r="2.1"/>
<circle cx="166.5" cy="197.1" r="2.1"/>
<circle cx="223.7" cy="121.9" r="2.1"/>
<circle cx="191.4" cy="138.0" r="2.1"/>
<circle cx="214.4" cy="107.3" r="2.1"/>
<circle cx="176.3" cy="159.8" r="2.1"/>
<circle cx="175.2" cy="141.4" r="2.1"/>
<circle cx="266.6" cy="88.7" r="2.1"/>
<circle cx="179.4" cy="157.8" r="2.1"/>
<circle cx="205.4" cy="178.5" r="2.1"/>
<circle cx="186.7" cy="135.1" r="2.1"/>
<circle cx="175.6" cy="164.3" r="2.1"/>
<circle cx="238.5" cy="111.9" r="2.1"/>
<circle cx="232.2" cy="80.6" r="2.1"/>
<circle cx="176.8" cy="148.0" r="2.1"/>
<circle cx="195.3" cy="220.0" r="2.1"/>
<circle cx="232.4" cy="107.0" r="2.1"/>
<circle cx="249.5" cy="127.4" r="2.1"/>
<circle cx="210.7" cy="103.1" r="2.1"/>
<circle cx="201.2" cy="78.3" r="2.1"/>
<circle cx="188.0" cy="169.3" r="2.1"/>
<circle cx="198.2" cy="141.6" r="2.1"/>
<circle cx="171.6" cy="179.0" r="2.1"/>
<circle cx="163.2" cy="172.2" r="2.1"/>
<circle cx="220.0" cy="104.3" r="2.1"/>
<circle cx="170.1" cy="138.8" r="2.1"/>
<circle cx="272.9" cy="92.9" r="2.1"/>
<circle cx="185.4" cy="114.8" r="2.1"/>
<circle cx="199.0" cy="168.8" r="2.1"/>
<circle cx="220.0" cy="113.0" r="2.1"/>
<circle cx="234.1" cy="78.8" r="2.1"/>
<circle cx="206.7" cy="115.2" r="2.1"/>
<circle cx="184.5" cy="183.4" r="2.1"/>
<circle cx="221.6" cy="137.4" r="2.1"/>
<circle cx="243.7" cy="108.1" r="2.1"/>
<circle cx="191.6" cy="152.4" r="2.1"/>
<circle cx="169.3" cy="143.6" r="2.1"/>
<circle cx="245.1" cy="127.7" r="2.1"/>
<circle cx="201.0" cy="127.6" r="2.1"/>
<circle cx="167.8" cy="160.2" r="2.1"/>
<circle cx="186.7" cy="140.8" r="2.1"/>
<circle cx="178.4" cy="152.5" r="2.1"/>
<circle cx="191.7" cy="110.2" r="2.1"/>
<circle cx="200.0" cy="128.2" r="2.1"/>
<circle cx="221.6" cy="97.8" r="2.1"/>
<circle cx="214.2" cy="111.7" r="2.1"/>
<circle cx="141.6" cy="156.6" r="2.1"/>
<circle cx="237.5" cy="153.1" r="2.1"/>
<circle cx="209.8" cy="98.8" r="2.1"/>
<circle cx="218.2" cy="128.9" r="2.1"/>
<circle cx="232.8" cy="114.1" r="2.1"/>
<circle cx="201.7" cy="166.8" r="2.1"/>
<circle cx="203.0" cy="188.5" r="2.1"/>
<circle cx="231.6" cy="117.7" r="2.1"/>
<circle cx="185.1" cy="176.4" r="2.1"/>
<circle cx="142.9" cy="189.1" r="2.1"/>
<circle cx="247.6" cy="129.9" r="2.1"/>
<circle cx="167.0" cy="138.2" r="2.1"/>
<circle cx="192.2" cy="142.7" r="2.1"/>
<circle cx="171.2" cy="179.3" r="2.1"/>
<circle cx="178.8" cy="183.3" r="2.1"/>
<circle cx="184.1" cy="180.0" r="2.1"/>
<circle cx="208.5" cy="163.8" r="2.1"/>
<circle cx="219.6" cy="135.3" r="2.1"/>
<circle cx="145.5" cy="198.8" r="2.1"/>
<circle cx="224.6" cy="119.5" r="2.1"/>
<circle cx="191.4" cy="188.6" r="2.1"/>
<circle cx="179.8" cy="171.1" r="2.1"/>
<circle cx="231.7" cy="131.6" r="2.1"/>
<circle cx="199.5" cy="137.8" r="2.1"/>
<circle cx="141.3" cy="154.8" r="2.1"/>
<circle cx="241.9" cy="84.1" r="2.1"/>
<circle cx="185.6" cy="166.3" r="2.1"/>
<circle cx="230.0" cy="153.7" r="2.1"/>
<circle cx="226.2" cy="152.1" r="2.1"/>
<circle cx="260.0" cy="122.2" r="2.1"/>
<circle cx="182.7" cy="140.6" r="2.1"/>
<circle cx="238.3" cy="120.6" r="2.1"/>
<circle cx="183.8" cy="157.8" r="2.1"/>
<circle cx="239.4" cy="116.0" r="2.1"/>
<circle cx="182.9" cy="158.0" r="2.1"/>
<circle cx="176.5" cy="128.6" r="2.1"/>
<circle cx="259.6" cy="98.4" r="2.1"/>
<circle cx="215.7" cy="133.9" r="2.1"/>
<circle cx="216.3" cy="146.2" r="2.1"/>
<circle cx="248.7" cy="71.7" r="2.1"/>
<circle cx="225.4" cy="142.2" r="2.1"/>
<circle cx="197.1" cy="175.7" r="2.1"/>
<circle cx="239.3" cy="136.9" r="2.1"/>
<circle cx="191.3" cy="188.5" r="2.1"/>
<circle cx="225.9" cy="102.9" r="2.1"/>
<circle cx="201.4" cy="76.2" r="2.1"/>
<circle cx="201.5" cy="167.8" r="2.1"/>
<circle cx="175.5" cy="142.2" r="2.1"/>
<circle cx="204.7" cy="129.6" r="2.1"/>
<circle cx="217.6" cy="152.9" r="2.1"/>
<circle cx="182.2" cy="169.0" r="2.1"/>
<circle cx="220.6" cy="125.4" r="2.1"/>
<circle cx="160.6" cy="201.1" r="2.1"/>
<circle cx="168.1" cy="123.2" r="2.1"/>
<circle cx="217.2" cy="175.1" r="2.1"/>
<circle cx="191.7" cy="140.3" r="2.1"/>
<circle cx="207.0" cy="124.8" r="2.1"/>
<circle cx="179.7" cy="179.2" r="2.1"/>
<circle cx="216.4" cy="119.5" r="2.1"/>
<circle cx="187.7" cy="130.8" r="2.1"/>
<circle cx="185.0" cy="154.0" r="2.1"/>
<circle cx="163.6" cy="170.1" r="2.1"/>
<circle cx="164.8" cy="161.3" r="2.1"/>
<circle cx="238.0" cy="156.2" r="2.1"/>
<circle cx="160.4" cy="144.2" r="2.1"/>
<circle cx="176.2" cy="106.7" r="2.1"/>
<circle cx="217.8" cy="98.4" r="2.1"/>
<circle cx="216.7" cy="98.7" r="2.1"/>
<circle cx="260.2" cy="114.9" r="2.1"/>
<circle cx="197.4" cy="147.9" r="2.1"/>
<circle cx="186.2" cy="178.5" r="2.1"/>
<circle cx="236.4" cy="118.0" r="2.1"/>
<circle cx="199.0" cy="116.4" r="2.1"/>
<circle cx="241.7" cy="118.1" r="2.1"/>
<circle cx="205.3" cy="139.5" r="2.1"/>
<circle cx="257.4" cy="131.3" r="2.1"/>
<circle cx="226.7" cy="117.0" r="2.1"/>
<circle cx="220.3" cy="117.2" r="2.1"/>
<circle cx="224.9" cy="133.8" r="2.1"/>
<circle cx="222.5" cy="136.9" r="2.1"/>
<circle cx="185.4" cy="107.3" r="2.1"/>
<circle cx="224.3" cy="148.5" r="2.1"/>
<circle cx="241.5" cy="125.1" r="2.1"/>
<circle cx="200.7" cy="163.5" r="2.1"/>
<circle cx="232.0" cy="79.9" r="2.1"/>
<circle cx="174.1" cy="112.8" r="2.1"/>
<circle cx="224.0" cy="107.9" r="2.1"/>
<circle cx="210.2" cy="150.5" r="2.1"/>
<circle cx="202.5" cy="150.8" r="2.1"/>
<circle cx="241.1" cy="74.4" r="2.1"/>
<circle cx="207.1" cy="159.3" r="2.1"/>
<circle cx="152.9" cy="153.3" r="2.1"/>
<circle cx="167.5" cy="138.2" r="2.1"/>
<circle cx="194.5" cy="145.8" r="2.1"/>
<circle cx="249.4" cy="76.5" r="2.1"/>
<circle cx="199.1" cy="121.8" r="2.1"/>
<circle cx="207.4" cy="94.6" r="2.1"/>
<circle cx="191.3" cy="179.4" r="2.1"/>
<circle cx="197.4" cy="112.9" r="2.1"/>
<circle cx="225.0" cy="124.5" r="2.1"/>
<circle cx="258.3" cy="101.6" r="2.1"/>
<circle cx="184.5" cy="155.9" r="2.1"/>
<circle cx="221.3" cy="124.2" r="2.1"/>
<circle cx="223.4" cy="143.3" r="2.1"/>
<circle cx="197.7" cy="186.8" r="2.1"/>
<circle cx="214.8" cy="151.6" r="2.1"/>
<circle cx="178.4" cy="125.1" r="2.1"/>
<circle cx="120.5" cy="174.8" r="2.1"/>
<circle cx="210.3" cy="113.3" r="2.1"/>
<circle cx="202.0" cy="108.4" r="2.1"/>
<circle cx="198.8" cy="157.4" r="2.1"/>
<circle cx="170.5" cy="175.6" r="2.1"/>
<circle cx="237.0" cy="96.8" r="2.1"/>
<circle cx="223.7" cy="145.6" r="2.1"/>
<circle cx="241.4" cy="123.5" r="2.1"/>
<circle cx="237.6" cy="100.6" r="2.1"/>
<circle cx="194.3" cy="157.0" r="2.1"/>
<circle cx="237.2" cy="130.2" r="2.1"/>
<circle cx="192.4" cy="139.3" r="2.1"/>
<circle cx="205.1" cy="143.4" r="2.1"/>
<circle cx="188.3" cy="126.2" r="2.1"/>
<circle cx="203.4" cy="138.1" r="2.1"/>
<circle cx="235.2" cy="112.4" r="2.1"/>
<circle cx="204.9" cy="132.8" r="2.1"/>
<circle cx="201.7" cy="144.7" r="2.1"/>
<circle cx="204.8" cy="155.0" r="2.1"/>
<circle cx="217.1" cy="134.1" r="2.1"/>
<circle cx="171.3" cy="152.5" r="2.1"/>
<circle cx="182.5" cy="143.0" r="2.1"/>
<circle cx="185.8" cy="121.6" r="2.1"/>
<circle cx="210.5" cy="176.5" r="2.1"/>
<circle cx="205.4" cy="146.8" r="2.1"/>
<circle cx="193.2" cy="160.8" r="2.1"/>
<circle cx="251.5" cy="85.7" r="2.1"/>
<circle cx="242.5" cy="109.1" r="2.1"/>
<circle cx="221.2" cy="132.6" r="2.1"/>
<circle cx="192.1" cy="128.6" r="2.1"/>
<circle cx="256.2" cy="81.2" r="2.1"/>
<circle cx="226.2" cy="145.2" r="2.1"/>
<circle cx="184.3" cy="121.8" r="2.1"/>
<circle cx="198.4" cy="116.2" r="2.1"/>
<circle cx="218.3" cy="137.5" r="2.1"/>
<circle cx="228.4" cy="91.9" r="2.1"/>
<circle cx="212.2" cy="148.8" r="2.1"/>
<circle cx="242.0" cy="72.1" r="2.1"/>
<circle cx="183.8" cy="165.6" r="2.1"/>
<circle cx="230.9" cy="129.9" r="2.1"/>
<circle cx="182.8" cy="170.8" r="2.1"/>
<circle cx="258.6" cy="101.2" r="2.1"/>
<circle cx="192.6" cy="144.5" r="2.1"/>
<circle cx="199.7" cy="137.2" r="2.1"/>
<circle cx="226.2" cy="112.9" r="2.1"/>
<circle cx="241.9" cy="112.1" r="2.1"/>
<circle cx="221.5" cy="215.2" r="2.1"/>
<circle cx="193.5" cy="146.3" r="2.1"/>
<circle cx="192.1" cy="200.0" r="2.1"/>
<circle cx="203.8" cy="130.8" r="2.1"/>
<circle cx="186.5" cy="125.1" r="2.1"/>
<circle cx="191.1" cy="143.9" r="2.1"/>
<circle cx="191.0" cy="162.5" r="2.1"/>
<circle cx="195.9" cy="151.2" r="2.1"/>
<circle cx="186.2" cy="160.6" r="2.1"/>
<circle cx="223.6" cy="130.9" r="2.1"/>
<circle cx="248.8" cy="106.2" r="2.1"/>
<circle cx="166.3" cy="201.3" r="2.1"/>
<circle cx="185.4" cy="124.7" r="2.1"/>
<circle cx="193.0" cy="149.9" r="2.1"/>
<circle cx="203.7" cy="112.2" r="2.1"/>
<circle cx="182.5" cy="168.0" r="2.1"/>
<circle cx="198.8" cy="141.1" r="2.1"/>
<circle cx="179.2" cy="169.2" r="2.1"/>
<circle cx="215.1" cy="113.2" r="2.1"/>
<circle cx="195.4" cy="123.7" r="2.1"/>
<circle cx="196.3" cy="139.2" r="2.1"/>
<circle cx="221.2" cy="137.1" r="2.1"/>
<circle cx="207.0" cy="155.7" r="2.1"/>
<circle cx="143.5" cy="158.2" r="2.1"/>
<circle cx="221.9" cy="125.3" r="2.1"/>
<circle cx="214.3" cy="134.0" r="2.1"/>
<circle cx="181.0" cy="121.9" r="2.1"/>
<circle cx="214.5" cy="99.0" r="2.1"/>
<circle cx="227.3" cy="100.0" r="2.1"/>
<circle cx="180.8" cy="173.5" r="2.1"/>
<circle cx="154.1" cy="127.0" r="2.1"/>
<circle cx="237.3" cy="93.9" r="2.1"/>
<circle cx="232.2" cy="95.1" r="2.1"/>
<circle cx="186.9" cy="160.9" r="2.1"/>
<circle cx="191.4" cy="188.5" r="2.1"/>
<circle cx="204.1" cy="173.8" r="2.1"/>
<circle cx="185.6" cy="146.2" r="2.1"/>
<circle cx="158.5" cy="175.9" r="2.1"/>
<circle cx="207.2" cy="140.5" r="2.1"/>
<circle cx="185.8" cy="188.0" r="2.1"/>
<circle cx="191.0" cy="189.6" r="2.1"/>
<circle cx="230.5" cy="117.4" r="2.1"/>
<circle cx="204.5" cy="176.5" r="2.1"/>
<circle cx="190.2" cy="127.5" r="2.1"/>
<circle cx="204.7" cy="106.7" r="2.1"/>
<circle cx="188.2" cy="82.4" r="2.1"/>
<circle cx="183.8" cy="135.2" r="2.1"/>
<circle cx="212.0" cy="145.0" r="2.1"/>
<circle cx="193.5" cy="172.7" r="2.1"/>
<circle cx="175.2" cy="168.8" r="2.1"/>
<circle cx="179.6" cy="139.9" r="2.1"/>
<circle cx="275.5" cy="153.8" r="2.1"/>
<circle cx="236.4" cy="139.0" r="2.1"/>
<circle cx="230.1" cy="133.9" r="2.1"/>
<circle cx="202.4" cy="133.4" r="2.1"/>
<circle cx="233.5" cy="131.7" r="2.1"/>
<circle cx="225.9" cy="68.6" r="2.1"/>
<circle cx="157.9" cy="185.7" r="2.1"/>
<circle cx="178.2" cy="160.9" r="2.1"/>
<circle cx="144.4" cy="195.8" r="2.1"/>
<circle cx="237.5" cy="67.8" r="2.1"/>
<circle cx="253.9" cy="105.5" r="2.1"/>
<circle cx="196.0" cy="88.3" r="2.1"/>
<circle cx="140.7" cy="178.1" r="2.1"/>
<circle cx="198.0" cy="131.9" r="2.1"/>
<circle cx="185.7" cy="151.3" r="2.1"/>
<circle cx="185.8" cy="125.9" r="2.1"/>
<circle cx="164.1" cy="123.7" r="2.1"/>
<circle cx="191.7" cy="100.3" r="2.1"/>
<circle cx="171.8" cy="148.9" r="2.1"/>
<circle cx="205.6" cy="90.3" r="2.1"/>
<circle cx="201.3" cy="130.0" r="2.1"/>
<circle cx="154.7" cy="121.6" r="2.1"/>
<circle cx="191.9" cy="148.1" r="2.1"/>
<circle cx="228.9" cy="211.3" r="2.1"/>
<circle cx="193.0" cy="81.3" r="2.1"/>
<circle cx="182.8" cy="151.0" r="2.1"/>
<circle cx="234.1" cy="162.0" r="2.1"/>
<circle cx="185.7" cy="164.0" r="2.1"/>
<circle cx="162.2" cy="220.9" r="2.1"/>
<circle cx="178.1" cy="61.0" r="2.1"/>
<circle cx="144.9" cy="172.1" r="2.1"/>
<circle cx="257.5" cy="157.0" r="2.1"/>
<circle cx="197.6" cy="112.7" r="2.1"/>
<circle cx="144.5" cy="215.5" r="2.1"/>
<circle cx="115.4" cy="130.4" r="2.1"/>
<circle cx="201.8" cy="189.4" r="2.1"/>
<circle cx="219.2" cy="229.1" r="2.1"/>
<circle cx="150.7" cy="187.0" r="2.1"/>
<circle cx="230.7" cy="122.3" r="2.1"/>
<circle cx="196.6" cy="163.6" r="2.1"/>
<circle cx="260.5" cy="182.6" r="2.1"/>
<circle cx="169.3" cy="149.0" r="2.1"/>
<circle cx="166.4" cy="91.2" r="2.1"/>
<circle cx="213.6" cy="218.6" r="2.1"/>
<circle cx="166.3" cy="114.0" r="2.1"/>
<circle cx="230.2" cy="134.5" r="2.1"/>
<circle cx="141.0" cy="85.0" r="2.1"/>
<circle cx="168.1" cy="149.8" r="2.1"/>
<circle cx="160.1" cy="189.6" r="2.1"/>
<circle cx="174.9" cy="108.8" r="2.1"/>
<circle cx="195.3" cy="115.7" r="2.1"/>
<circle cx="200.1" cy="169.0" r="2.1"/>
<circle cx="150.3" cy="155.2" r="2.1"/>
<circle cx="227.4" cy="134.5" r="2.1"/>
<circle cx="135.9" cy="104.1" r="2.1"/>
<circle cx="216.1" cy="138.6" r="2.1"/>
<circle cx="223.7" cy="143.8" r="2.1"/>
<circle cx="94.2" cy="231.0" r="2.1"/>
<circle cx="237.1" cy="178.2" r="2.1"/>
<circle cx="201.9" cy="203.7" r="2.1"/>
<circle cx="257.7" cy="103.1" r="2.1"/>
<circle cx="198.5" cy="166.9" r="2.1"/>
<circle cx="165.2" cy="172.0" r="2.1"/>
<circle cx="160.5" cy="122.1" r="2.1"/>
<circle cx="212.8" cy="148.7" r="2.1"/>
<circle cx="163.1" cy="152.5" r="2.1"/>
<circle cx="179.0" cy="129.1" r="2.1"/>
<circle cx="171.7" cy="220.9" r="2.1"/>
<circle cx="181.6" cy="146.0" r="2.1"/>
<circle cx="246.1" cy="136.5" r="2.1"/>
<circle cx="241.7" cy="47.8" r="2.1"/>
<circle cx="210.3" cy="104.9" r="2.1"/>
<circle cx="204.9" cy="131.5" r="2.1"/>
<circle cx="270.3" cy="130.6" r="2.1"/>
<circle cx="229.8" cy="101.8" r="2.1"/>
<circle cx="274.1" cy="99.5" r="2.1"/>
<circle cx="218.0" cy="86.3" r="2.1"/>
<circle cx="193.9" cy="150.8" r="2.1"/>
<circle cx="224.2" cy="154.0" r="2.1"/>
<circle cx="179.7" cy="112.4" r="2.1"/>
<circle cx="189.1" cy="112.8" r="2.1"/>
<circle cx="216.9" cy="150.5" r="2.1"/>
<circle cx="139.2" cy="143.8" r="2.1"/>
<circle cx="126.0" cy="229.4" r="2.1"/>
<circle cx="178.1" cy="177.3" r="2.1"/>
<circle cx="118.8" cy="216.5" r="2.1"/>
<circle cx="215.9" cy="160.1" r="2.1"/>
<circle cx="206.1" cy="154.4" r="2.1"/>
<circle cx="138.2" cy="210.5" r="2.1"/>
<circle cx="183.8" cy="81.3" r="2.1"/>
<circle cx="191.1" cy="75.9" r="2.1"/>
<circle cx="205.1" cy="145.9" r="2.1"/>
<circle cx="217.8" cy="45.8" r="2.1"/>
<circle cx="264.5" cy="76.1" r="2.1"/>
<circle cx="142.4" cy="180.3" r="2.1"/>
<circle cx="212.1" cy="83.9" r="2.1"/>
<circle cx="204.5" cy="117.7" r="2.1"/>
<circle cx="152.9" cy="70.7" r="2.1"/>
<circle cx="223.7" cy="101.8" r="2.1"/>
<circle cx="197.7" cy="200.4" r="2.1"/>
<circle cx="142.6" cy="132.3" r="2.1"/>
<circle cx="174.9" cy="185.5" r="2.1"/>
<circle cx="175.0" cy="180.2" r="2.1"/>
<circle cx="263.1" cy="220.6" r="2.1"/>
<circle cx="118.8" cy="174.4" r="2.1"/>
<circle cx="137.8" cy="163.5" r="2.1"/>
<circle cx="64.6" cy="122.3" r="2.1"/>
<circle cx="197.1" cy="20.4" r="2.1"/>
<circle cx="123.6" cy="261.8" r="2.1"/>
<circle cx="195.3" cy="266.2" r="2.1"/>
<circle cx="237.2" cy="256.5" r="2.1"/>
<circle cx="104.2" cy="96.7" r="2.1"/>
<circle cx="219.4" cy="51.4" r="2.1"/>
<circle cx="296.3" cy="129.1" r="2.1"/>
<circle cx="281.3" cy="119.3" r="2.1"/>
<circle cx="161.5" cy="235.3" r="2.1"/>
</g>
<line x1="245.7" y1="26.8" x2="269.3" y2="49.8" stroke="#222" stroke-width="0.9" />
<line x1="127.8" y1="158.8" x2="151" y2="181.5" stroke="#222" stroke-width="0.9" />
<line x1="103.7" y1="191.8" x2="127.3" y2="214.5" stroke="#222" stroke-width="0.9" />
<circle cx="271.3" cy="52.3" r="4.2" fill="#16966a" stroke="#0d3f2c" stroke-width="0.9"/>
<circle cx="291.2" cy="68.6" r="4.2" fill="#16966a" stroke="#0d3f2c" stroke-width="0.9"/>
<circle cx="249" cy="73.4" r="4.2" fill="#16966a" stroke="#0d3f2c" stroke-width="0.9"/>
<circle cx="247.5" cy="92.3" r="4.2" fill="#16966a" stroke="#0d3f2c" stroke-width="0.9"/>
<circle cx="265.6" cy="185.2" r="4.2" fill="#16966a" stroke="#0d3f2c" stroke-width="0.9"/>
<circle cx="153" cy="183.8" r="4.2" fill="#16966a" stroke="#0d3f2c" stroke-width="0.9"/>
<circle cx="141" cy="194.3" r="4.2" fill="#16966a" stroke="#0d3f2c" stroke-width="0.9"/>
<circle cx="129" cy="216.6" r="4.2" fill="#16966a" stroke="#0d3f2c" stroke-width="0.9"/>
<circle cx="148.4" cy="237.2" r="4.2" fill="#16966a" stroke="#0d3f2c" stroke-width="0.9"/>
<circle cx="112.8" cy="244.3" r="4.2" fill="#16966a" stroke="#0d3f2c" stroke-width="0.9"/>
<circle cx="152.4" cy="253.4" r="4.2" fill="#16966a" stroke="#0d3f2c" stroke-width="0.9"/>
<circle cx="83.3" cy="254.3" r="4.2" fill="#16966a" stroke="#0d3f2c" stroke-width="0.9"/>
<circle cx="89" cy="257.7" r="4.2" fill="#16966a" stroke="#0d3f2c" stroke-width="0.9"/>
<text x="246.6" y="24.3" font-size="15" text-anchor="middle" fill="#111" font-weight="normal" font-style="normal" >231910</text>
<text x="127" y="155.8" font-size="15" text-anchor="middle" fill="#111" font-weight="normal" font-style="normal" >212930</text>
<text x="103" y="188.1" font-size="15" text-anchor="middle" fill="#111" font-weight="normal" font-style="normal" >226500</text>
<text x="353.5" y="15.5" font-size="22" text-anchor="start" fill="#000" font-weight="bold" font-style="normal" >b</text>
<rect x="417.5" y="28.5" width="198.0" height="154.0" fill="none" stroke="#262626" stroke-width="1.25"/>
<text x="516.5" y="20.2" font-size="14.7" text-anchor="middle" fill="#111" font-weight="normal" font-style="normal" >TGGT1_212930</text>
<line x1="413.5" y1="45.6" x2="417.5" y2="45.6" stroke="#262626" stroke-width="1.2" />
<text x="408" y="50.9" font-size="15" text-anchor="end" fill="#111" font-weight="normal" font-style="normal" >1.0</text>
<line x1="413.5" y1="110.55" x2="417.5" y2="110.55" stroke="#262626" stroke-width="1.2" />
<text x="408" y="115.85" font-size="15" text-anchor="end" fill="#111" font-weight="normal" font-style="normal" >0.5</text>
<line x1="413.5" y1="175.5" x2="417.5" y2="175.5" stroke="#262626" stroke-width="1.2" />
<text x="408" y="180.8" font-size="15" text-anchor="end" fill="#111" font-weight="normal" font-style="normal" >0.0</text>
<line x1="445" y1="182.5" x2="445" y2="186.5" stroke="#262626" stroke-width="1.2" />
<text x="445" y="203.8" font-size="15" text-anchor="middle" fill="#111" font-weight="normal" font-style="normal" >40</text>
<line x1="504.5" y1="182.5" x2="504.5" y2="186.5" stroke="#262626" stroke-width="1.2" />
<text x="504.5" y="203.8" font-size="15" text-anchor="middle" fill="#111" font-weight="normal" font-style="normal" >50</text>
<line x1="564" y1="182.5" x2="564" y2="186.5" stroke="#262626" stroke-width="1.2" />
<text x="564" y="203.8" font-size="15" text-anchor="middle" fill="#111" font-weight="normal" font-style="normal" >60</text>
<rect x="417.5" y="249.5" width="198.0" height="154.0" fill="none" stroke="#262626" stroke-width="1.25"/>
<text x="516.5" y="241.2" font-size="14.7" text-anchor="middle" fill="#111" font-weight="normal" font-style="normal" >TGGT1_226500</text>
<line x1="413.5" y1="266.3" x2="417.5" y2="266.3" stroke="#262626" stroke-width="1.2" />
<text x="408" y="271.6" font-size="15" text-anchor="end" fill="#111" font-weight="normal" font-style="normal" >1.0</text>
<line x1="413.5" y1="331.5" x2="417.5" y2="331.5" stroke="#262626" stroke-width="1.2" />
<text x="408" y="336.8" font-size="15" text-anchor="end" fill="#111" font-weight="normal" font-style="normal" >0.5</text>
<line x1="413.5" y1="396.7" x2="417.5" y2="396.7" stroke="#262626" stroke-width="1.2" />
<text x="408" y="402" font-size="15" text-anchor="end" fill="#111" font-weight="normal" font-style="normal" >0.0</text>
<line x1="445" y1="403.5" x2="445" y2="407.5" stroke="#262626" stroke-width="1.2" />
<text x="445" y="424.8" font-size="15" text-anchor="middle" fill="#111" font-weight="normal" font-style="normal" >40</text>
<line x1="504.5" y1="403.5" x2="504.5" y2="407.5" stroke="#262626" stroke-width="1.2" />
<text x="504.5" y="424.8" font-size="15" text-anchor="middle" fill="#111" font-weight="normal" font-style="normal" >50</text>
<line x1="564" y1="403.5" x2="564" y2="407.5" stroke="#262626" stroke-width="1.2" />
<text x="564" y="424.8" font-size="15" text-anchor="middle" fill="#111" font-weight="normal" font-style="normal" >60</text>
<rect x="417.5" y="464.5" width="198.0" height="154.0" fill="none" stroke="#262626" stroke-width="1.25"/>
<text x="516.5" y="456.2" font-size="14.7" text-anchor="middle" fill="#111" font-weight="normal" font-style="normal" >TGGT1_231910</text>
<line x1="413.5" y1="481.5" x2="417.5" y2="481.5" stroke="#262626" stroke-width="1.2" />
<text x="408" y="486.8" font-size="15" text-anchor="end" fill="#111" font-weight="normal" font-style="normal" >1.0</text>
<line x1="413.5" y1="546.5" x2="417.5" y2="546.5" stroke="#262626" stroke-width="1.2" />
<text x="408" y="551.8" font-size="15" text-anchor="end" fill="#111" font-weight="normal" font-style="normal" >0.5</text>
<line x1="413.5" y1="611.5" x2="417.5" y2="611.5" stroke="#262626" stroke-width="1.2" />
<text x="408" y="616.8" font-size="15" text-anchor="end" fill="#111" font-weight="normal" font-style="normal" >0.0</text>
<line x1="445" y1="618.5" x2="445" y2="622.5" stroke="#262626" stroke-width="1.2" />
<text x="445" y="639.8" font-size="15" text-anchor="middle" fill="#111" font-weight="normal" font-style="normal" >40</text>
<line x1="504.5" y1="618.5" x2="504.5" y2="622.5" stroke="#262626" stroke-width="1.2" />
<text x="504.5" y="639.8" font-size="15" text-anchor="middle" fill="#111" font-weight="normal" font-style="normal" >50</text>
<line x1="564" y1="618.5" x2="564" y2="622.5" stroke="#262626" stroke-width="1.2" />
<text x="564" y="639.8" font-size="15" text-anchor="middle" fill="#111" font-weight="normal" font-style="normal" >60</text>
<text transform="translate(375.5,323.5) rotate(-90)" font-size="15" text-anchor="middle" fill="#111">Fraction soluble</text>
<text x="516.3" y="660.2" font-size="15.2" text-anchor="middle" fill="#111" font-weight="normal" font-style="normal" >Temperature (°C)</text>
<circle cx="427.1" cy="45.6" r="2.3" fill="#0c5139"/>
<circle cx="462.9" cy="56.0" r="2.3" fill="#0c5139"/>
<circle cx="486.6" cy="82.0" r="2.3" fill="#0c5139"/>
<circle cx="504.5" cy="133.9" r="2.3" fill="#0c5139"/>
<circle cx="522.4" cy="143.0" r="2.3" fill="#0c5139"/>
<circle cx="540.2" cy="154.7" r="2.3" fill="#0c5139"/>
<circle cx="558.0" cy="159.9" r="2.3" fill="#0c5139"/>
<circle cx="581.9" cy="164.5" r="2.3" fill="#0c5139"/>
<circle cx="605.6" cy="162.5" r="2.3" fill="#0c5139"/>
<circle cx="427.1" cy="45.6" r="2.1" fill="#fff" stroke="#0c5139" stroke-width="0.8"/>
<circle cx="462.9" cy="58.6" r="2.1" fill="#fff" stroke="#0c5139" stroke-width="0.8"/>
<circle cx="486.6" cy="84.6" r="2.1" fill="#fff" stroke="#0c5139" stroke-width="0.8"/>
<circle cx="504.5" cy="117.0" r="2.1" fill="#fff" stroke="#0c5139" stroke-width="0.8"/>
<circle cx="522.4" cy="139.1" r="2.1" fill="#fff" stroke="#0c5139" stroke-width="0.8"/>
<circle cx="540.2" cy="149.5" r="2.1" fill="#fff" stroke="#0c5139" stroke-width="0.8"/>
<circle cx="558.0" cy="157.3" r="2.1" fill="#fff" stroke="#0c5139" stroke-width="0.8"/>
<circle cx="581.9" cy="157.3" r="2.1" fill="#fff" stroke="#0c5139" stroke-width="0.8"/>
<circle cx="605.6" cy="159.9" r="2.1" fill="#fff" stroke="#0c5139" stroke-width="0.8"/>
<circle cx="462.9" cy="132.6" r="2.3" fill="#1ba275"/>
<circle cx="486.6" cy="140.4" r="2.3" fill="#1ba275"/>
<circle cx="504.5" cy="155.4" r="2.3" fill="#1ba275"/>
<circle cx="522.4" cy="162.5" r="2.3" fill="#1ba275"/>
<circle cx="540.2" cy="167.7" r="2.3" fill="#1ba275"/>
<circle cx="558.0" cy="169.0" r="2.3" fill="#1ba275"/>
<circle cx="581.9" cy="167.7" r="2.3" fill="#1ba275"/>
<circle cx="605.6" cy="172.9" r="2.3" fill="#1ba275"/>
<circle cx="486.6" cy="137.8" r="2.1" fill="#fff" stroke="#1ba275" stroke-width="0.8"/>
<circle cx="504.5" cy="153.4" r="2.1" fill="#fff" stroke="#1ba275" stroke-width="0.8"/>
<circle cx="522.4" cy="161.2" r="2.1" fill="#fff" stroke="#1ba275" stroke-width="0.8"/>
<circle cx="540.2" cy="165.1" r="2.1" fill="#fff" stroke="#1ba275" stroke-width="0.8"/>
<circle cx="581.9" cy="166.4" r="2.1" fill="#fff" stroke="#1ba275" stroke-width="0.8"/>
<path d="M426.0,59.4 L428.0,61.8 L430.0,64.4 L432.0,67.3 L434.1,70.5 L436.1,74.0 L438.1,77.8 L440.1,81.7 L442.2,85.9 L444.2,90.2 L446.2,94.6 L448.2,99.1 L450.3,103.5 L452.3,107.9 L454.3,112.3 L456.3,116.4 L458.4,120.5 L460.4,124.3 L462.4,127.9 L464.4,131.3 L466.5,134.4 L468.5,137.3 L470.5,140.0 L472.6,142.5 L474.6,144.7 L476.6,146.8 L478.6,148.7 L480.7,150.3 L482.7,151.9 L484.7,153.2 L486.7,154.5 L488.8,155.6 L490.8,156.6 L492.8,157.5 L494.8,158.3 L496.9,159.1 L498.9,159.7 L500.9,160.3 L502.9,160.8 L505.0,161.3 L507.0,161.8 L509.0,162.2 L511.0,162.5 L513.1,162.8 L515.1,163.1 L517.1,163.4 L519.1,163.6 L521.2,163.8 L523.2,164.0 L525.2,164.2 L527.2,164.3 L529.3,164.5 L531.3,164.6 L533.3,164.7 L535.3,164.9 L537.4,165.0 L539.4,165.0 L541.4,165.1 L543.4,165.2 L545.5,165.3 L547.5,165.3 L549.5,165.4 L551.6,165.4 L553.6,165.5 L555.6,165.5 L557.6,165.6 L559.7,165.6 L561.7,165.7 L563.7,165.7 L565.7,165.7 L567.8,165.8 L569.8,165.8 L571.8,165.8 L573.8,165.8 L575.9,165.8 L577.9,165.9 L579.9,165.9 L581.9,165.9 L584.0,165.9 L586.0,165.9 L588.0,165.9 L590.0,166.0 L592.1,166.0 L594.1,166.0 L596.1,166.0 L598.1,166.0 L600.2,166.0 L602.2,166.0 L604.2,166.0 L606.2,166.0" fill="none" stroke="#1ba275" stroke-width="2.2" stroke-dasharray="4,2.5"/>
<path d="M426.0,59.1 L428.0,61.4 L430.0,63.9 L432.0,66.8 L434.1,69.9 L436.1,73.3 L438.1,77.0 L440.1,80.9 L442.2,84.9 L444.2,89.2 L446.2,93.5 L448.2,98.0 L450.3,102.4 L452.3,106.8 L454.3,111.2 L456.3,115.4 L458.4,119.4 L460.4,123.3 L462.4,127.0 L464.4,130.5 L466.5,133.7 L468.5,136.7 L470.5,139.5 L472.6,142.1 L474.6,144.4 L476.6,146.6 L478.6,148.5 L480.7,150.3 L482.7,151.9 L484.7,153.4 L486.7,154.7 L488.8,155.9 L490.8,156.9 L492.8,157.9 L494.8,158.8 L496.9,159.5 L498.9,160.3 L500.9,160.9 L502.9,161.5 L505.0,162.0 L507.0,162.4 L509.0,162.9 L511.0,163.2 L513.1,163.6 L515.1,163.9 L517.1,164.2 L519.1,164.4 L521.2,164.7 L523.2,164.9 L525.2,165.1 L527.2,165.3 L529.3,165.4 L531.3,165.6 L533.3,165.7 L535.3,165.8 L537.4,165.9 L539.4,166.0 L541.4,166.1 L543.4,166.2 L545.5,166.3 L547.5,166.3 L549.5,166.4 L551.6,166.5 L553.6,166.5 L555.6,166.6 L557.6,166.6 L559.7,166.7 L561.7,166.7 L563.7,166.7 L565.7,166.8 L567.8,166.8 L569.8,166.8 L571.8,166.8 L573.8,166.9 L575.9,166.9 L577.9,166.9 L579.9,166.9 L581.9,167.0 L584.0,167.0 L586.0,167.0 L588.0,167.0 L590.0,167.0 L592.1,167.0 L594.1,167.0 L596.1,167.1 L598.1,167.1 L600.2,167.1 L602.2,167.1 L604.2,167.1 L606.2,167.1" fill="none" stroke="#1ba275" stroke-width="2.2"/>
<path d="M426.0,46.4 L428.0,46.5 L430.0,46.7 L432.0,47.0 L434.1,47.3 L436.1,47.6 L438.1,48.0 L440.1,48.4 L442.2,49.0 L444.2,49.6 L446.2,50.3 L448.2,51.1 L450.3,52.0 L452.3,53.0 L454.3,54.2 L456.3,55.5 L458.4,57.0 L460.4,58.6 L462.4,60.4 L464.4,62.4 L466.5,64.5 L468.5,66.9 L470.5,69.4 L472.6,72.1 L474.6,74.9 L476.6,77.9 L478.6,81.0 L480.7,84.2 L482.7,87.5 L484.7,90.9 L486.7,94.3 L488.8,97.7 L490.8,101.1 L492.8,104.4 L494.8,107.7 L496.9,111.0 L498.9,114.1 L500.9,117.1 L502.9,120.0 L505.0,122.8 L507.0,125.4 L509.0,127.9 L511.0,130.2 L513.1,132.4 L515.1,134.4 L517.1,136.3 L519.1,138.1 L521.2,139.8 L523.2,141.3 L525.2,142.7 L527.2,144.0 L529.3,145.2 L531.3,146.3 L533.3,147.4 L535.3,148.3 L537.4,149.2 L539.4,150.0 L541.4,150.7 L543.4,151.4 L545.5,152.0 L547.5,152.6 L549.5,153.1 L551.6,153.6 L553.6,154.0 L555.6,154.4 L557.6,154.8 L559.7,155.1 L561.7,155.5 L563.7,155.8 L565.7,156.0 L567.8,156.3 L569.8,156.5 L571.8,156.7 L573.8,156.9 L575.9,157.1 L577.9,157.3 L579.9,157.4 L581.9,157.6 L584.0,157.7 L586.0,157.8 L588.0,157.9 L590.0,158.0 L592.1,158.1 L594.1,158.2 L596.1,158.3 L598.1,158.4 L600.2,158.5 L602.2,158.5 L604.2,158.6 L606.2,158.6" fill="none" stroke="#0c5139" stroke-width="2.2" stroke-dasharray="4,2.5"/>
<path d="M426.0,45.9 L428.0,45.9 L430.0,46.0 L432.0,46.1 L434.1,46.3 L436.1,46.4 L438.1,46.6 L440.1,46.9 L442.2,47.2 L444.2,47.5 L446.2,48.0 L448.2,48.5 L450.3,49.1 L452.3,49.8 L454.3,50.6 L456.3,51.6 L458.4,52.8 L460.4,54.1 L462.4,55.6 L464.4,57.3 L466.5,59.3 L468.5,61.5 L470.5,63.9 L472.6,66.6 L474.6,69.5 L476.6,72.7 L478.6,76.1 L480.7,79.7 L482.7,83.5 L484.7,87.5 L486.7,91.5 L488.8,95.7 L490.8,99.8 L492.8,103.9 L494.8,108.0 L496.9,111.9 L498.9,115.8 L500.9,119.4 L502.9,122.9 L505.0,126.2 L507.0,129.3 L509.0,132.2 L511.0,134.9 L513.1,137.4 L515.1,139.6 L517.1,141.7 L519.1,143.6 L521.2,145.3 L523.2,146.9 L525.2,148.3 L527.2,149.6 L529.3,150.7 L531.3,151.8 L533.3,152.7 L535.3,153.6 L537.4,154.3 L539.4,155.0 L541.4,155.7 L543.4,156.2 L545.5,156.7 L547.5,157.2 L549.5,157.6 L551.6,158.0 L553.6,158.3 L555.6,158.6 L557.6,158.9 L559.7,159.1 L561.7,159.3 L563.7,159.5 L565.7,159.7 L567.8,159.9 L569.8,160.0 L571.8,160.2 L573.8,160.3 L575.9,160.4 L577.9,160.5 L579.9,160.6 L581.9,160.7 L584.0,160.8 L586.0,160.8 L588.0,160.9 L590.0,161.0 L592.1,161.0 L594.1,161.1 L596.1,161.1 L598.1,161.1 L600.2,161.2 L602.2,161.2 L604.2,161.2 L606.2,161.3" fill="none" stroke="#0c5139" stroke-width="2.2"/>
<path d="M448.2,104.2L460.8,116.8M448.2,116.8L460.8,104.2" stroke="#1ba275" stroke-width="2.8" fill="none"/>
<path d="M489.9,104.2L502.5,116.8M489.9,116.8L502.5,104.2" stroke="#0c5139" stroke-width="2.8" fill="none"/>
<line x1="503.4" y1="42.2" x2="518.6" y2="42.2" stroke="#0c5139" stroke-width="2.3" stroke-dasharray="2.4,2.6,5.6,2.6,2.4,10"/>
<text x="525.5" y="45.4" font-size="12.6" text-anchor="start" fill="#111" font-weight="normal" font-style="normal" >– Rapa rep 1</text>
<line x1="503.4" y1="59.6" x2="518.6" y2="59.6" stroke="#0c5139" stroke-width="2.3"/>
<text x="525.5" y="62.8" font-size="12.6" text-anchor="start" fill="#111" font-weight="normal" font-style="normal" >– Rapa rep 2</text>
<line x1="503.4" y1="77.1" x2="518.6" y2="77.1" stroke="#1ba275" stroke-width="2.3" stroke-dasharray="2.4,2.6,5.6,2.6,2.4,10"/>
<text x="525.5" y="80.3" font-size="12.6" text-anchor="start" fill="#111" font-weight="normal" font-style="normal" >+ Rapa rep 1</text>
<line x1="503.4" y1="94.7" x2="518.6" y2="94.7" stroke="#1ba275" stroke-width="2.3"/>
<text x="525.5" y="97.9" font-size="12.6" text-anchor="start" fill="#111" font-weight="normal" font-style="normal" >+ Rapa rep 2</text>
<circle cx="462.9" cy="274.1" r="2.3" fill="#0c5139"/>
<circle cx="486.6" cy="263.7" r="2.3" fill="#0c5139"/>
<circle cx="504.5" cy="293.7" r="2.3" fill="#0c5139"/>
<circle cx="522.4" cy="302.8" r="2.3" fill="#0c5139"/>
<circle cx="540.2" cy="318.5" r="2.3" fill="#0c5139"/>
<circle cx="558.0" cy="328.9" r="2.3" fill="#0c5139"/>
<circle cx="581.9" cy="345.8" r="2.3" fill="#0c5139"/>
<circle cx="605.6" cy="373.2" r="2.3" fill="#0c5139"/>
<circle cx="462.9" cy="271.5" r="2.1" fill="#fff" stroke="#0c5139" stroke-width="0.8"/>
<circle cx="486.6" cy="266.3" r="2.1" fill="#fff" stroke="#0c5139" stroke-width="0.8"/>
<circle cx="504.5" cy="288.5" r="2.1" fill="#fff" stroke="#0c5139" stroke-width="0.8"/>
<circle cx="540.2" cy="321.1" r="2.1" fill="#fff" stroke="#0c5139" stroke-width="0.8"/>
<circle cx="558.0" cy="325.0" r="2.1" fill="#fff" stroke="#0c5139" stroke-width="0.8"/>
<circle cx="581.9" cy="347.1" r="2.1" fill="#fff" stroke="#0c5139" stroke-width="0.8"/>
<circle cx="605.6" cy="370.6" r="2.1" fill="#fff" stroke="#0c5139" stroke-width="0.8"/>
<circle cx="427.1" cy="266.3" r="2.3" fill="#1ba275"/>
<circle cx="462.9" cy="327.6" r="2.3" fill="#1ba275"/>
<circle cx="486.6" cy="328.9" r="2.3" fill="#1ba275"/>
<circle cx="522.4" cy="340.6" r="2.3" fill="#1ba275"/>
<circle cx="540.2" cy="349.8" r="2.3" fill="#1ba275"/>
<circle cx="558.0" cy="360.2" r="2.3" fill="#1ba275"/>
<circle cx="581.9" cy="370.6" r="2.3" fill="#1ba275"/>
<circle cx="605.6" cy="390.2" r="2.3" fill="#1ba275"/>
<circle cx="462.9" cy="321.1" r="2.1" fill="#fff" stroke="#1ba275" stroke-width="0.8"/>
<circle cx="504.5" cy="331.5" r="2.1" fill="#fff" stroke="#1ba275" stroke-width="0.8"/>
<circle cx="522.4" cy="338.0" r="2.1" fill="#fff" stroke="#1ba275" stroke-width="0.8"/>
<circle cx="540.2" cy="348.5" r="2.1" fill="#fff" stroke="#1ba275" stroke-width="0.8"/>
<circle cx="558.0" cy="353.7" r="2.1" fill="#fff" stroke="#1ba275" stroke-width="0.8"/>
<circle cx="605.6" cy="377.1" r="2.1" fill="#fff" stroke="#1ba275" stroke-width="0.8"/>
<path d="M426.0,279.8 L428.0,280.8 L430.0,281.8 L432.0,282.8 L434.1,283.9 L436.1,285.1 L438.1,286.2 L440.1,287.4 L442.2,288.7 L444.2,289.9 L446.2,291.2 L448.2,292.6 L450.3,293.9 L452.3,295.3 L454.3,296.7 L456.3,298.2 L458.4,299.6 L460.4,301.1 L462.4,302.6 L464.4,304.1 L466.5,305.6 L468.5,307.1 L470.5,308.7 L472.6,310.2 L474.6,311.7 L476.6,313.2 L478.6,314.8 L480.7,316.3 L482.7,317.8 L484.7,319.3 L486.7,320.8 L488.8,322.3 L490.8,323.8 L492.8,325.2 L494.8,326.7 L496.9,328.1 L498.9,329.5 L500.9,330.9 L502.9,332.3 L505.0,333.6 L507.0,334.9 L509.0,336.2 L511.0,337.5 L513.1,338.8 L515.1,340.0 L517.1,341.2 L519.1,342.4 L521.2,343.6 L523.2,344.7 L525.2,345.8 L527.2,346.9 L529.3,347.9 L531.3,349.0 L533.3,350.0 L535.3,351.0 L537.4,351.9 L539.4,352.9 L541.4,353.8 L543.4,354.7 L545.5,355.6 L547.5,356.4 L549.5,357.2 L551.6,358.0 L553.6,358.8 L555.6,359.6 L557.6,360.3 L559.7,361.1 L561.7,361.8 L563.7,362.5 L565.7,363.1 L567.8,363.8 L569.8,364.4 L571.8,365.0 L573.8,365.6 L575.9,366.2 L577.9,366.8 L579.9,367.4 L581.9,367.9 L584.0,368.4 L586.0,368.9 L588.0,369.4 L590.0,369.9 L592.1,370.4 L594.1,370.8 L596.1,371.3 L598.1,371.7 L600.2,372.1 L602.2,372.6 L604.2,373.0 L606.2,373.3" fill="none" stroke="#1ba275" stroke-width="2.2" stroke-dasharray="4,2.5"/>
<path d="M426.0,282.4 L428.0,283.5 L430.0,284.6 L432.0,285.8 L434.1,287.0 L436.1,288.2 L438.1,289.5 L440.1,290.8 L442.2,292.1 L444.2,293.5 L446.2,294.9 L448.2,296.3 L450.3,297.7 L452.3,299.2 L454.3,300.6 L456.3,302.1 L458.4,303.6 L460.4,305.2 L462.4,306.7 L464.4,308.2 L466.5,309.8 L468.5,311.3 L470.5,312.9 L472.6,314.4 L474.6,316.0 L476.6,317.5 L478.6,319.0 L480.7,320.6 L482.7,322.1 L484.7,323.6 L486.7,325.1 L488.8,326.5 L490.8,328.0 L492.8,329.4 L494.8,330.8 L496.9,332.2 L498.9,333.6 L500.9,335.0 L502.9,336.3 L505.0,337.6 L507.0,338.9 L509.0,340.2 L511.0,341.4 L513.1,342.6 L515.1,343.8 L517.1,345.0 L519.1,346.1 L521.2,347.3 L523.2,348.3 L525.2,349.4 L527.2,350.5 L529.3,351.5 L531.3,352.5 L533.3,353.5 L535.3,354.4 L537.4,355.3 L539.4,356.3 L541.4,357.1 L543.4,358.0 L545.5,358.8 L547.5,359.7 L549.5,360.5 L551.6,361.2 L553.6,362.0 L555.6,362.7 L557.6,363.5 L559.7,364.2 L561.7,364.8 L563.7,365.5 L565.7,366.2 L567.8,366.8 L569.8,367.4 L571.8,368.0 L573.8,368.6 L575.9,369.2 L577.9,369.7 L579.9,370.2 L581.9,370.8 L584.0,371.3 L586.0,371.8 L588.0,372.3 L590.0,372.7 L592.1,373.2 L594.1,373.6 L596.1,374.1 L598.1,374.5 L600.2,374.9 L602.2,375.3 L604.2,375.7 L606.2,376.1" fill="none" stroke="#1ba275" stroke-width="2.2"/>
<path d="M426.0,266.6 L428.0,266.7 L430.0,266.7 L432.0,266.8 L434.1,266.9 L436.1,266.9 L438.1,267.0 L440.1,267.1 L442.2,267.3 L444.2,267.4 L446.2,267.5 L448.2,267.7 L450.3,267.9 L452.3,268.1 L454.3,268.3 L456.3,268.6 L458.4,268.8 L460.4,269.1 L462.4,269.5 L464.4,269.8 L466.5,270.2 L468.5,270.6 L470.5,271.1 L472.6,271.6 L474.6,272.1 L476.6,272.7 L478.6,273.3 L480.7,274.0 L482.7,274.7 L484.7,275.5 L486.7,276.3 L488.8,277.2 L490.8,278.1 L492.8,279.1 L494.8,280.1 L496.9,281.2 L498.9,282.4 L500.9,283.6 L502.9,284.8 L505.0,286.2 L507.0,287.5 L509.0,289.0 L511.0,290.5 L513.1,292.0 L515.1,293.6 L517.1,295.2 L519.1,296.9 L521.2,298.6 L523.2,300.4 L525.2,302.2 L527.2,304.0 L529.3,305.8 L531.3,307.7 L533.3,309.6 L535.3,311.5 L537.4,313.4 L539.4,315.3 L541.4,317.2 L543.4,319.1 L545.5,321.1 L547.5,323.0 L549.5,324.8 L551.6,326.7 L553.6,328.6 L555.6,330.4 L557.6,332.2 L559.7,334.0 L561.7,335.7 L563.7,337.4 L565.7,339.1 L567.8,340.7 L569.8,342.3 L571.8,343.9 L573.8,345.4 L575.9,346.9 L577.9,348.3 L579.9,349.7 L581.9,351.1 L584.0,352.4 L586.0,353.7 L588.0,354.9 L590.0,356.1 L592.1,357.3 L594.1,358.4 L596.1,359.5 L598.1,360.5 L600.2,361.5 L602.2,362.5 L604.2,363.5 L606.2,364.4" fill="none" stroke="#0c5139" stroke-width="2.2" stroke-dasharray="4,2.5"/>
<path d="M426.0,266.8 L428.0,266.8 L430.0,266.9 L432.0,267.0 L434.1,267.1 L436.1,267.2 L438.1,267.4 L440.1,267.5 L442.2,267.6 L444.2,267.8 L446.2,268.0 L448.2,268.2 L450.3,268.4 L452.3,268.7 L454.3,269.0 L456.3,269.3 L458.4,269.6 L460.4,269.9 L462.4,270.3 L464.4,270.7 L466.5,271.2 L468.5,271.7 L470.5,272.2 L472.6,272.8 L474.6,273.4 L476.6,274.0 L478.6,274.7 L480.7,275.4 L482.7,276.2 L484.7,277.1 L486.7,278.0 L488.8,278.9 L490.8,279.9 L492.8,280.9 L494.8,282.0 L496.9,283.1 L498.9,284.3 L500.9,285.6 L502.9,286.9 L505.0,288.2 L507.0,289.6 L509.0,291.1 L511.0,292.6 L513.1,294.1 L515.1,295.7 L517.1,297.3 L519.1,298.9 L521.2,300.6 L523.2,302.4 L525.2,304.1 L527.2,305.9 L529.3,307.7 L531.3,309.5 L533.3,311.3 L535.3,313.2 L537.4,315.0 L539.4,316.9 L541.4,318.8 L543.4,320.6 L545.5,322.5 L547.5,324.3 L549.5,326.1 L551.6,327.9 L553.6,329.7 L555.6,331.5 L557.6,333.3 L559.7,335.0 L561.7,336.7 L563.7,338.4 L565.7,340.0 L567.8,341.6 L569.8,343.2 L571.8,344.8 L573.8,346.3 L575.9,347.8 L577.9,349.2 L579.9,350.6 L581.9,352.0 L584.0,353.3 L586.0,354.6 L588.0,355.9 L590.0,357.1 L592.1,358.3 L594.1,359.4 L596.1,360.6 L598.1,361.7 L600.2,362.7 L602.2,363.7 L604.2,364.7 L606.2,365.7" fill="none" stroke="#0c5139" stroke-width="2.2"/>
<path d="M486.5,326.0L497.5,337.0M486.5,337.0L497.5,326.0" stroke="#1ba275" stroke-width="1.8" fill="none"/>
<path d="M494.2,326.0L505.2,337.0M494.2,337.0L505.2,326.0" stroke="#1ba275" stroke-width="1.8" fill="none"/>
<path d="M549.4,325.2L562.0,337.8M549.4,337.8L562.0,325.2" stroke="#0c5139" stroke-width="2.8" fill="none"/>
<circle cx="427.1" cy="481.5" r="2.3" fill="#1ba275"/>
<circle cx="462.9" cy="488.0" r="2.3" fill="#1ba275"/>
<circle cx="486.6" cy="476.3" r="2.3" fill="#1ba275"/>
<circle cx="504.5" cy="476.3" r="2.3" fill="#1ba275"/>
<circle cx="522.4" cy="498.4" r="2.3" fill="#1ba275"/>
<circle cx="540.2" cy="512.7" r="2.3" fill="#1ba275"/>
<circle cx="558.0" cy="529.6" r="2.3" fill="#1ba275"/>
<circle cx="581.9" cy="537.4" r="2.3" fill="#1ba275"/>
<circle cx="605.6" cy="575.1" r="2.3" fill="#1ba275"/>
<circle cx="462.9" cy="488.0" r="2.1" fill="#fff" stroke="#1ba275" stroke-width="0.8"/>
<circle cx="486.6" cy="489.3" r="2.1" fill="#fff" stroke="#1ba275" stroke-width="0.8"/>
<circle cx="504.5" cy="504.9" r="2.1" fill="#fff" stroke="#1ba275" stroke-width="0.8"/>
<circle cx="522.4" cy="519.2" r="2.1" fill="#fff" stroke="#1ba275" stroke-width="0.8"/>
<circle cx="540.2" cy="515.3" r="2.1" fill="#fff" stroke="#1ba275" stroke-width="0.8"/>
<circle cx="558.0" cy="533.5" r="2.1" fill="#fff" stroke="#1ba275" stroke-width="0.8"/>
<circle cx="581.9" cy="543.9" r="2.1" fill="#fff" stroke="#1ba275" stroke-width="0.8"/>
<circle cx="605.6" cy="576.4" r="2.1" fill="#fff" stroke="#1ba275" stroke-width="0.8"/>
<circle cx="462.9" cy="490.6" r="2.3" fill="#0c5139"/>
<circle cx="486.6" cy="497.1" r="2.3" fill="#0c5139"/>
<circle cx="504.5" cy="519.2" r="2.3" fill="#0c5139"/>
<circle cx="522.4" cy="537.4" r="2.3" fill="#0c5139"/>
<circle cx="540.2" cy="555.6" r="2.3" fill="#0c5139"/>
<circle cx="558.0" cy="563.4" r="2.3" fill="#0c5139"/>
<circle cx="581.9" cy="566.0" r="2.3" fill="#0c5139"/>
<circle cx="605.6" cy="580.3" r="2.3" fill="#0c5139"/>
<circle cx="486.6" cy="507.5" r="2.1" fill="#fff" stroke="#0c5139" stroke-width="0.8"/>
<circle cx="504.5" cy="515.3" r="2.1" fill="#fff" stroke="#0c5139" stroke-width="0.8"/>
<circle cx="540.2" cy="550.4" r="2.1" fill="#fff" stroke="#0c5139" stroke-width="0.8"/>
<circle cx="581.9" cy="562.1" r="2.1" fill="#fff" stroke="#0c5139" stroke-width="0.8"/>
<circle cx="605.6" cy="576.4" r="2.1" fill="#fff" stroke="#0c5139" stroke-width="0.8"/>
<path d="M426.0,481.9 L428.0,482.0 L430.0,482.1 L432.0,482.2 L434.1,482.3 L436.1,482.4 L438.1,482.6 L440.1,482.7 L442.2,482.9 L444.2,483.2 L446.2,483.4 L448.2,483.7 L450.3,484.0 L452.3,484.4 L454.3,484.8 L456.3,485.3 L458.4,485.8 L460.4,486.3 L462.4,487.0 L464.4,487.6 L466.5,488.4 L468.5,489.2 L470.5,490.1 L472.6,491.1 L474.6,492.1 L476.6,493.2 L478.6,494.4 L480.7,495.7 L482.7,497.1 L484.7,498.6 L486.7,500.1 L488.8,501.7 L490.8,503.4 L492.8,505.2 L494.8,507.1 L496.9,509.0 L498.9,510.9 L500.9,512.9 L502.9,515.0 L505.0,517.1 L507.0,519.2 L509.0,521.3 L511.0,523.4 L513.1,525.6 L515.1,527.7 L517.1,529.8 L519.1,531.9 L521.2,533.9 L523.2,535.9 L525.2,537.9 L527.2,539.8 L529.3,541.6 L531.3,543.4 L533.3,545.2 L535.3,546.9 L537.4,548.5 L539.4,550.1 L541.4,551.5 L543.4,553.0 L545.5,554.3 L547.5,555.6 L549.5,556.9 L551.6,558.1 L553.6,559.2 L555.6,560.2 L557.6,561.2 L559.7,562.2 L561.7,563.1 L563.7,564.0 L565.7,564.8 L567.8,565.5 L569.8,566.3 L571.8,566.9 L573.8,567.6 L575.9,568.2 L577.9,568.8 L579.9,569.3 L581.9,569.8 L584.0,570.3 L586.0,570.8 L588.0,571.2 L590.0,571.6 L592.1,572.0 L594.1,572.4 L596.1,572.7 L598.1,573.0 L600.2,573.3 L602.2,573.6 L604.2,573.9 L606.2,574.1" fill="none" stroke="#0c5139" stroke-width="2.2" stroke-dasharray="4,2.5"/>
<path d="M426.0,482.0 L428.0,482.1 L430.0,482.3 L432.0,482.4 L434.1,482.5 L436.1,482.7 L438.1,482.9 L440.1,483.1 L442.2,483.3 L444.2,483.6 L446.2,483.9 L448.2,484.3 L450.3,484.6 L452.3,485.1 L454.3,485.6 L456.3,486.1 L458.4,486.7 L460.4,487.3 L462.4,488.0 L464.4,488.8 L466.5,489.6 L468.5,490.5 L470.5,491.5 L472.6,492.6 L474.6,493.7 L476.6,494.9 L478.6,496.2 L480.7,497.6 L482.7,499.1 L484.7,500.6 L486.7,502.2 L488.8,503.9 L490.8,505.7 L492.8,507.5 L494.8,509.4 L496.9,511.3 L498.9,513.3 L500.9,515.3 L502.9,517.4 L505.0,519.5 L507.0,521.6 L509.0,523.7 L511.0,525.8 L513.1,527.9 L515.1,530.0 L517.1,532.0 L519.1,534.1 L521.2,536.1 L523.2,538.0 L525.2,539.9 L527.2,541.8 L529.3,543.6 L531.3,545.4 L533.3,547.1 L535.3,548.7 L537.4,550.3 L539.4,551.8 L541.4,553.3 L543.4,554.7 L545.5,556.0 L547.5,557.3 L549.5,558.5 L551.6,559.6 L553.6,560.7 L555.6,561.8 L557.6,562.8 L559.7,563.7 L561.7,564.6 L563.7,565.5 L565.7,566.3 L567.8,567.1 L569.8,567.8 L571.8,568.5 L573.8,569.1 L575.9,569.7 L577.9,570.3 L579.9,570.9 L581.9,571.4 L584.0,571.9 L586.0,572.4 L588.0,572.8 L590.0,573.2 L592.1,573.6 L594.1,574.0 L596.1,574.3 L598.1,574.7 L600.2,575.0 L602.2,575.3 L604.2,575.6 L606.2,575.8" fill="none" stroke="#0c5139" stroke-width="2.2"/>
<path d="M426.0,483.5 L428.0,483.7 L430.0,483.9 L432.0,484.1 L434.1,484.3 L436.1,484.6 L438.1,484.8 L440.1,485.1 L442.2,485.4 L444.2,485.7 L446.2,486.0 L448.2,486.3 L450.3,486.7 L452.3,487.1 L454.3,487.4 L456.3,487.9 L458.4,488.3 L460.4,488.7 L462.4,489.2 L464.4,489.7 L466.5,490.2 L468.5,490.7 L470.5,491.3 L472.6,491.9 L474.6,492.5 L476.6,493.1 L478.6,493.7 L480.7,494.4 L482.7,495.1 L484.7,495.8 L486.7,496.6 L488.8,497.3 L490.8,498.1 L492.8,498.9 L494.8,499.7 L496.9,500.6 L498.9,501.5 L500.9,502.4 L502.9,503.3 L505.0,504.2 L507.0,505.2 L509.0,506.2 L511.0,507.2 L513.1,508.2 L515.1,509.2 L517.1,510.3 L519.1,511.3 L521.2,512.4 L523.2,513.5 L525.2,514.7 L527.2,515.8 L529.3,517.0 L531.3,518.1 L533.3,519.3 L535.3,520.5 L537.4,521.7 L539.4,522.9 L541.4,524.2 L543.4,525.4 L545.5,526.6 L547.5,527.9 L549.5,529.2 L551.6,530.4 L553.6,531.7 L555.6,533.0 L557.6,534.2 L559.7,535.5 L561.7,536.8 L563.7,538.1 L565.7,539.4 L567.8,540.7 L569.8,542.0 L571.8,543.2 L573.8,544.5 L575.9,545.8 L577.9,547.1 L579.9,548.4 L581.9,549.6 L584.0,550.9 L586.0,552.1 L588.0,553.4 L590.0,554.6 L592.1,555.9 L594.1,557.1 L596.1,558.3 L598.1,559.6 L600.2,560.8 L602.2,562.0 L604.2,563.2 L606.2,564.3" fill="none" stroke="#1ba275" stroke-width="2.2" stroke-dasharray="4,2.5"/>
<path d="M426.0,481.7 L428.0,481.7 L430.0,481.7 L432.0,481.8 L434.1,481.8 L436.1,481.8 L438.1,481.9 L440.1,481.9 L442.2,482.0 L444.2,482.1 L446.2,482.1 L448.2,482.2 L450.3,482.3 L452.3,482.4 L454.3,482.5 L456.3,482.6 L458.4,482.8 L460.4,482.9 L462.4,483.1 L464.4,483.3 L466.5,483.5 L468.5,483.7 L470.5,483.9 L472.6,484.2 L474.6,484.4 L476.6,484.7 L478.6,485.1 L480.7,485.4 L482.7,485.8 L484.7,486.2 L486.7,486.6 L488.8,487.1 L490.8,487.5 L492.8,488.1 L494.8,488.6 L496.9,489.2 L498.9,489.9 L500.9,490.5 L502.9,491.2 L505.0,492.0 L507.0,492.8 L509.0,493.6 L511.0,494.5 L513.1,495.4 L515.1,496.4 L517.1,497.4 L519.1,498.5 L521.2,499.6 L523.2,500.7 L525.2,501.9 L527.2,503.2 L529.3,504.5 L531.3,505.8 L533.3,507.2 L535.3,508.6 L537.4,510.1 L539.4,511.6 L541.4,513.1 L543.4,514.7 L545.5,516.3 L547.5,518.0 L549.5,519.7 L551.6,521.4 L553.6,523.1 L555.6,524.9 L557.6,526.7 L559.7,528.5 L561.7,530.3 L563.7,532.1 L565.7,534.0 L567.8,535.8 L569.8,537.7 L571.8,539.5 L573.8,541.4 L575.9,543.2 L577.9,545.1 L579.9,546.9 L581.9,548.8 L584.0,550.6 L586.0,552.4 L588.0,554.2 L590.0,555.9 L592.1,557.7 L594.1,559.4 L596.1,561.1 L598.1,562.8 L600.2,564.5 L602.2,566.1 L604.2,567.7 L606.2,569.3" fill="none" stroke="#1ba275" stroke-width="2.2"/>
<path d="M525.8,541.0L536.8,552.0M525.8,552.0L536.8,541.0" stroke="#0c5139" stroke-width="1.8" fill="none"/>
<path d="M531.7,541.0L542.7,552.0M531.7,552.0L542.7,541.0" stroke="#0c5139" stroke-width="1.8" fill="none"/>
<path d="M571.6,541.0L582.6,552.0M571.6,552.0L582.6,541.0" stroke="#1ba275" stroke-width="1.8" fill="none"/>
<path d="M576.4,541.0L587.4,552.0M576.4,552.0L587.4,541.0" stroke="#1ba275" stroke-width="1.8" fill="none"/>
<text x="0" y="360.8" font-size="22" text-anchor="start" fill="#000" font-weight="bold" font-style="normal" >c</text>
<path d="M59.5,625.5V361.5H322.5V625.5H59.5" fill="none" stroke="#2a2a2a" stroke-width="1.2"/>
<line x1="55.5" y1="625.3" x2="59.5" y2="625.3" stroke="#2a2a2a" stroke-width="1.2" />
<text x="48.8" y="630.7" font-size="15" text-anchor="end" fill="#111" font-weight="normal" font-style="normal" >0</text>
<line x1="55.5" y1="572.56" x2="59.5" y2="572.56" stroke="#2a2a2a" stroke-width="1.2" />
<text x="48.8" y="577.96" font-size="15" text-anchor="end" fill="#111" font-weight="normal" font-style="normal" >25</text>
<line x1="55.5" y1="519.82" x2="59.5" y2="519.82" stroke="#2a2a2a" stroke-width="1.2" />
<text x="48.8" y="525.22" font-size="15" text-anchor="end" fill="#111" font-weight="normal" font-style="normal" >50</text>
<line x1="55.5" y1="467.08" x2="59.5" y2="467.08" stroke="#2a2a2a" stroke-width="1.2" />
<text x="48.8" y="472.48" font-size="15" text-anchor="end" fill="#111" font-weight="normal" font-style="normal" >75</text>
<line x1="55.5" y1="414.34" x2="59.5" y2="414.34" stroke="#2a2a2a" stroke-width="1.2" />
<text x="48.8" y="419.74" font-size="15" text-anchor="end" fill="#111" font-weight="normal" font-style="normal" >100</text>
<line x1="55.5" y1="361.6" x2="59.5" y2="361.6" stroke="#2a2a2a" stroke-width="1.2" />
<text x="48.8" y="367" font-size="15" text-anchor="end" fill="#111" font-weight="normal" font-style="normal" >125</text>
<line x1="59" y1="625.5" x2="59" y2="629.5" stroke="#2a2a2a" stroke-width="1.2" />
<text x="59" y="647.3" font-size="15" text-anchor="middle" fill="#111" font-weight="normal" font-style="normal" >−1.5</text>
<line x1="146.88" y1="625.5" x2="146.88" y2="629.5" stroke="#2a2a2a" stroke-width="1.2" />
<text x="146.88" y="647.3" font-size="15" text-anchor="middle" fill="#111" font-weight="normal" font-style="normal" >−1.0</text>
<line x1="234.75" y1="625.5" x2="234.75" y2="629.5" stroke="#2a2a2a" stroke-width="1.2" />
<text x="234.75" y="647.3" font-size="15" text-anchor="middle" fill="#111" font-weight="normal" font-style="normal" >−0.5</text>
<line x1="322.62" y1="625.5" x2="322.62" y2="629.5" stroke="#2a2a2a" stroke-width="1.2" />
<text x="322.62" y="647.3" font-size="15" text-anchor="middle" fill="#111" font-weight="normal" font-style="normal" >0.0</text>
<text transform="translate(14.1,493.5) rotate(-90)" font-size="15.2" text-anchor="middle" fill="#111">Replicating vacuoles (% untreated)</text>
<text x="143.5" y="668.3" font-size="15" fill="#111">log [TTFA] <tspan font-size="14.5">µ</tspan><tspan font-size="11.5">M</tspan></text>
<path d="M146.9,401.0V426.6M141.4,401.0H152.4M141.4,426.6H152.4" stroke="#0c6fbb" stroke-width="1.3" fill="none"/>
<path d="M199.6,447.5V487.3M194.1,447.5H205.1M194.1,487.3H205.1" stroke="#0c6fbb" stroke-width="1.3" fill="none"/>
<path d="M252.3,589.4V614.8M246.8,589.4H257.8M246.8,614.8H257.8" stroke="#0c6fbb" stroke-width="1.3" fill="none"/>
<path d="M305.0,605.5V622.1M299.5,605.5H310.5M299.5,622.1H310.5" stroke="#0c6fbb" stroke-width="1.3" fill="none"/>
<path d="M146.9,401.7V420.7M141.4,401.7H152.4M141.4,420.7H152.4" stroke="#14a270" stroke-width="1.3" fill="none"/>
<path d="M199.6,431.0V443.9M194.1,431.0H205.1M194.1,443.9H205.1" stroke="#14a270" stroke-width="1.3" fill="none"/>
<path d="M252.3,484.4V539.4M246.8,484.4H257.8M246.8,539.4H257.8" stroke="#14a270" stroke-width="1.3" fill="none"/>
<path d="M305.0,578.3V620.7M299.5,578.3H310.5M299.5,620.7H310.5" stroke="#14a270" stroke-width="1.3" fill="none"/>
<path d="M199.6,447.5V504.0M194.1,447.5H205.1M194.1,504.0H205.1" stroke="#0b4f37" stroke-width="1.3" fill="none"/>
<path d="M252.3,555.5V597.2M246.8,555.5H257.8M246.8,597.2H257.8" stroke="#0b4f37" stroke-width="1.3" fill="none"/>
<path d="M146.9,414.3V427.0M141.4,414.3H152.4M141.4,427.0H152.4" stroke="#0b4f37" stroke-width="1.3" fill="none"/>
<path d="M59.0,414.4 L61.2,414.4 L63.4,414.4 L65.6,414.4 L67.9,414.4 L70.1,414.5 L72.3,414.5 L74.5,414.5 L76.7,414.5 L78.9,414.5 L81.2,414.5 L83.4,414.5 L85.6,414.5 L87.8,414.6 L90.0,414.6 L92.2,414.6 L94.4,414.6 L96.7,414.7 L98.9,414.7 L101.1,414.7 L103.3,414.8 L105.5,414.8 L107.7,414.9 L110.0,414.9 L112.2,415.0 L114.4,415.0 L116.6,415.1 L118.8,415.1 L121.0,415.2 L123.2,415.3 L125.5,415.4 L127.7,415.5 L129.9,415.6 L132.1,415.7 L134.3,415.8 L136.5,416.0 L138.8,416.1 L141.0,416.3 L143.2,416.5 L145.4,416.7 L147.6,416.9 L149.8,417.1 L152.0,417.4 L154.3,417.6 L156.5,417.9 L158.7,418.3 L160.9,418.6 L163.1,419.0 L165.3,419.5 L167.6,419.9 L169.8,420.4 L172.0,421.0 L174.2,421.6 L176.4,422.2 L178.6,422.9 L180.8,423.7 L183.1,424.5 L185.3,425.4 L187.5,426.4 L189.7,427.5 L191.9,428.6 L194.1,429.9 L196.4,431.2 L198.6,432.6 L200.8,434.2 L203.0,435.9 L205.2,437.7 L207.4,439.6 L209.6,441.6 L211.9,443.8 L214.1,446.2 L216.3,448.7 L218.5,451.3 L220.7,454.1 L222.9,457.1 L225.2,460.2 L227.4,463.5 L229.6,466.9 L231.8,470.5 L234.0,474.3 L236.2,478.2 L238.4,482.3 L240.7,486.4 L242.9,490.8 L245.1,495.2 L247.3,499.7 L249.5,504.2 L251.7,508.9 L253.9,513.6 L256.2,518.3 L258.4,523.0 L260.6,527.7 L262.8,532.4 L265.0,537.0 L267.2,541.5 L269.5,546.0 L271.7,550.4 L273.9,554.6 L276.1,558.8 L278.3,562.8 L280.5,566.6 L282.7,570.3 L285.0,573.9 L287.2,577.3 L289.4,580.5 L291.6,583.6 L293.8,586.5 L296.0,589.3 L298.3,591.9 L300.5,594.3 L302.7,596.6 L304.9,598.7 L307.1,600.7 L309.3,602.6 L311.5,604.4 L313.8,606.0 L316.0,607.5 L318.2,608.9 L320.4,610.2 L322.6,611.4" fill="none" stroke="#14a270" stroke-width="2.4"/>
<path d="M59.0,414.7 L61.2,414.8 L63.4,414.8 L65.6,414.8 L67.9,414.9 L70.1,414.9 L72.3,415.0 L74.5,415.0 L76.7,415.1 L78.9,415.1 L81.2,415.2 L83.4,415.3 L85.6,415.4 L87.8,415.5 L90.0,415.6 L92.2,415.7 L94.4,415.8 L96.7,415.9 L98.9,416.0 L101.1,416.2 L103.3,416.4 L105.5,416.5 L107.7,416.7 L110.0,416.9 L112.2,417.2 L114.4,417.4 L116.6,417.7 L118.8,417.9 L121.0,418.3 L123.2,418.6 L125.5,419.0 L127.7,419.4 L129.9,419.8 L132.1,420.3 L134.3,420.8 L136.5,421.3 L138.8,421.9 L141.0,422.5 L143.2,423.2 L145.4,424.0 L147.6,424.8 L149.8,425.6 L152.0,426.6 L154.3,427.6 L156.5,428.7 L158.7,429.8 L160.9,431.1 L163.1,432.4 L165.3,433.9 L167.6,435.4 L169.8,437.0 L172.0,438.8 L174.2,440.7 L176.4,442.7 L178.6,444.8 L180.8,447.1 L183.1,449.5 L185.3,452.0 L187.5,454.7 L189.7,457.5 L191.9,460.5 L194.1,463.6 L196.4,466.8 L198.6,470.2 L200.8,473.7 L203.0,477.4 L205.2,481.2 L207.4,485.1 L209.6,489.1 L211.9,493.2 L214.1,497.4 L216.3,501.7 L218.5,506.0 L220.7,510.4 L222.9,514.8 L225.2,519.2 L227.4,523.7 L229.6,528.1 L231.8,532.5 L234.0,536.9 L236.2,541.1 L238.4,545.4 L240.7,549.5 L242.9,553.5 L245.1,557.5 L247.3,561.3 L249.5,565.0 L251.7,568.5 L253.9,572.0 L256.2,575.2 L258.4,578.4 L260.6,581.4 L262.8,584.2 L265.0,586.9 L267.2,589.5 L269.5,592.0 L271.7,594.2 L273.9,596.4 L276.1,598.4 L278.3,600.4 L280.5,602.1 L282.7,603.8 L285.0,605.4 L287.2,606.9 L289.4,608.2 L291.6,609.5 L293.8,610.7 L296.0,611.8 L298.3,612.8 L300.5,613.8 L302.7,614.7 L304.9,615.5 L307.1,616.2 L309.3,616.9 L311.5,617.6 L313.8,618.2 L316.0,618.7 L318.2,619.3 L320.4,619.7 L322.6,620.2" fill="none" stroke="#0b4f37" stroke-width="2.4"/>
<path d="M59.0,414.4 L61.2,414.4 L63.4,414.4 L65.6,414.4 L67.9,414.4 L70.1,414.4 L72.3,414.4 L74.5,414.4 L76.7,414.4 L78.9,414.4 L81.2,414.4 L83.4,414.4 L85.6,414.4 L87.8,414.4 L90.0,414.4 L92.2,414.4 L94.4,414.5 L96.7,414.5 L98.9,414.5 L101.1,414.5 L103.3,414.5 L105.5,414.6 L107.7,414.6 L110.0,414.6 L112.2,414.7 L114.4,414.7 L116.6,414.8 L118.8,414.8 L121.0,414.9 L123.2,415.0 L125.5,415.1 L127.7,415.2 L129.9,415.3 L132.1,415.5 L134.3,415.6 L136.5,415.8 L138.8,416.0 L141.0,416.3 L143.2,416.5 L145.4,416.8 L147.6,417.2 L149.8,417.6 L152.0,418.1 L154.3,418.6 L156.5,419.2 L158.7,419.9 L160.9,420.7 L163.1,421.6 L165.3,422.6 L167.6,423.8 L169.8,425.1 L172.0,426.5 L174.2,428.2 L176.4,430.0 L178.6,432.1 L180.8,434.5 L183.1,437.1 L185.3,440.0 L187.5,443.2 L189.7,446.8 L191.9,450.7 L194.1,454.9 L196.4,459.6 L198.6,464.6 L200.8,470.0 L203.0,475.7 L205.2,481.8 L207.4,488.2 L209.6,494.8 L211.9,501.7 L214.1,508.7 L216.3,515.8 L218.5,523.0 L220.7,530.1 L222.9,537.2 L225.2,544.0 L227.4,550.7 L229.6,557.1 L231.8,563.2 L234.0,569.0 L236.2,574.4 L238.4,579.5 L240.7,584.2 L242.9,588.5 L245.1,592.4 L247.3,596.0 L249.5,599.3 L251.7,602.2 L253.9,604.9 L256.2,607.3 L258.4,609.4 L260.6,611.3 L262.8,612.9 L265.0,614.4 L267.2,615.7 L269.5,616.9 L271.7,617.9 L273.9,618.8 L276.1,619.6 L278.3,620.3 L280.5,621.0 L282.7,621.5 L285.0,622.0 L287.2,622.4 L289.4,622.8 L291.6,623.1 L293.8,623.4 L296.0,623.6 L298.3,623.8 L300.5,624.0 L302.7,624.2 L304.9,624.3 L307.1,624.4 L309.3,624.5 L311.5,624.6 L313.8,624.7 L316.0,624.8 L318.2,624.9 L320.4,624.9 L322.6,625.0" fill="none" stroke="#0c6fbb" stroke-width="2.4"/>
<circle cx="146.9" cy="420.7" r="5.6" fill="#0b4f37"/>
<circle cx="199.6" cy="476.2" r="5.6" fill="#0b4f37"/>
<circle cx="252.3" cy="575.9" r="5.6" fill="#0b4f37"/>
<circle cx="305.0" cy="614.8" r="5.6" fill="#0b4f37"/>
<circle cx="322.6" cy="622.1" r="5.6" fill="#0b4f37"/>
<circle cx="146.9" cy="408.2" r="5.6" fill="#14a270"/>
<circle cx="199.6" cy="439.0" r="5.6" fill="#14a270"/>
<circle cx="252.3" cy="512.0" r="5.6" fill="#14a270"/>
<circle cx="305.0" cy="599.4" r="5.6" fill="#14a270"/>
<circle cx="322.6" cy="619.2" r="5.6" fill="#14a270"/>
<circle cx="59.0" cy="414.3" r="5.6" fill="#0c6fbb"/>
<circle cx="146.9" cy="413.5" r="5.6" fill="#0c6fbb"/>
<circle cx="199.6" cy="468.1" r="5.6" fill="#0c6fbb"/>
<circle cx="252.3" cy="602.3" r="5.6" fill="#0c6fbb"/>
<circle cx="305.0" cy="613.9" r="5.6" fill="#0c6fbb"/>
<circle cx="322.6" cy="623.6" r="5.6" fill="#0c6fbb"/>
<line x1="63" y1="568.7" x2="90.5" y2="568.7" stroke="#4a8fcc" stroke-width="1.2" />
<circle cx="77.3" cy="568.7" r="5.4" fill="#0c6fbb"/>
<text x="97" y="573.4" font-size="13" text-anchor="start" fill="#111" font-weight="normal" font-style="normal" >Parental</text>
<line x1="63" y1="590.8" x2="90.5" y2="590.8" stroke="#4dbb93" stroke-width="1.2" />
<circle cx="77.3" cy="590.8" r="5.4" fill="#14a270"/>
<text x="97" y="595.5" font-size="13" text-anchor="start" fill="#111" font-weight="normal" font-style="normal" >Δ<tspan font-style="italic">DegP2</tspan></text>
<line x1="63" y1="612.8" x2="90.5" y2="612.8" stroke="#3d7a62" stroke-width="1.2" />
<circle cx="77.3" cy="612.8" r="5.4" fill="#0b4f37"/>
<text x="97" y="617.5" font-size="13" text-anchor="start" fill="#111" font-weight="normal" font-style="normal" >Δ<tspan font-style="italic">DegP2</tspan>/<tspan font-style="italic">DegP2-HA</tspan></text>
<text x="0" y="709" font-size="22" text-anchor="start" fill="#000" font-weight="bold" font-style="normal" >d</text>
<path d="M59.5,971.5V708.5H322.5V971.5H59.5" fill="none" stroke="#2a2a2a" stroke-width="1.2"/>
<line x1="55.5" y1="971.4" x2="59.5" y2="971.4" stroke="#2a2a2a" stroke-width="1.2" />
<text x="48.8" y="976.8" font-size="15" text-anchor="end" fill="#111" font-weight="normal" font-style="normal" >0</text>
<line x1="55.5" y1="918.73" x2="59.5" y2="918.73" stroke="#2a2a2a" stroke-width="1.2" />
<text x="48.8" y="924.12" font-size="15" text-anchor="end" fill="#111" font-weight="normal" font-style="normal" >25</text>
<line x1="55.5" y1="866.05" x2="59.5" y2="866.05" stroke="#2a2a2a" stroke-width="1.2" />
<text x="48.8" y="871.45" font-size="15" text-anchor="end" fill="#111" font-weight="normal" font-style="normal" >50</text>
<line x1="55.5" y1="813.38" x2="59.5" y2="813.38" stroke="#2a2a2a" stroke-width="1.2" />
<text x="48.8" y="818.77" font-size="15" text-anchor="end" fill="#111" font-weight="normal" font-style="normal" >75</text>
<line x1="55.5" y1="760.7" x2="59.5" y2="760.7" stroke="#2a2a2a" stroke-width="1.2" />
<text x="48.8" y="766.1" font-size="15" text-anchor="end" fill="#111" font-weight="normal" font-style="normal" >100</text>
<line x1="55.5" y1="708.02" x2="59.5" y2="708.02" stroke="#2a2a2a" stroke-width="1.2" />
<text x="48.8" y="713.42" font-size="15" text-anchor="end" fill="#111" font-weight="normal" font-style="normal" >125</text>
<line x1="59.6" y1="971.5" x2="59.6" y2="975.5" stroke="#2a2a2a" stroke-width="1.2" />
<text x="59.6" y="993" font-size="15" text-anchor="middle" fill="#111" font-weight="normal" font-style="normal" >−3</text>
<line x1="134.4" y1="971.5" x2="134.4" y2="975.5" stroke="#2a2a2a" stroke-width="1.2" />
<text x="134.4" y="993" font-size="15" text-anchor="middle" fill="#111" font-weight="normal" font-style="normal" >−2</text>
<line x1="209.2" y1="971.5" x2="209.2" y2="975.5" stroke="#2a2a2a" stroke-width="1.2" />
<text x="209.2" y="993" font-size="15" text-anchor="middle" fill="#111" font-weight="normal" font-style="normal" >−1</text>
<line x1="284" y1="971.5" x2="284" y2="975.5" stroke="#2a2a2a" stroke-width="1.2" />
<text x="284" y="993" font-size="15" text-anchor="middle" fill="#111" font-weight="normal" font-style="normal" >0</text>
<text transform="translate(13,839.6) rotate(-90)" font-size="15.2" text-anchor="middle" fill="#111">Replicating vacuoles (% untreated)</text>
<text x="150" y="1013.6" font-size="15" fill="#111">log [ATQ] <tspan font-size="14.5">µ</tspan><tspan font-size="11.5">M</tspan></text>
<path d="M112.0,748.7V778.2M106.5,748.7H117.5M106.5,778.2H117.5" stroke="#0c6fbb" stroke-width="1.3" fill="none"/>
<path d="M134.4,794.4V813.8M128.9,794.4H139.9M128.9,813.8H139.9" stroke="#0c6fbb" stroke-width="1.3" fill="none"/>
<path d="M186.8,855.1V877.2M181.3,855.1H192.3M181.3,877.2H192.3" stroke="#0c6fbb" stroke-width="1.3" fill="none"/>
<path d="M209.2,839.7V878.7M203.7,839.7H214.7M203.7,878.7H214.7" stroke="#0c6fbb" stroke-width="1.3" fill="none"/>
<path d="M261.6,902.5V931.4M256.1,902.5H267.1M256.1,931.4H267.1" stroke="#0c6fbb" stroke-width="1.3" fill="none"/>
<path d="M284.0,936.2V950.3M278.5,936.2H289.5M278.5,950.3H289.5" stroke="#0c6fbb" stroke-width="1.3" fill="none"/>
<path d="M306.4,952.9V965.1M300.9,952.9H311.9M300.9,965.1H311.9" stroke="#0c6fbb" stroke-width="1.3" fill="none"/>
<path d="M134.4,772.3V823.7M128.9,772.3H139.9M128.9,823.7H139.9" stroke="#14a270" stroke-width="1.3" fill="none"/>
<path d="M186.8,805.8V843.3M181.3,805.8H192.3M181.3,843.3H192.3" stroke="#14a270" stroke-width="1.3" fill="none"/>
<path d="M209.2,855.5V908.4M203.7,855.5H214.7M203.7,908.4H214.7" stroke="#14a270" stroke-width="1.3" fill="none"/>
<path d="M261.6,904.8V964.7M256.1,904.8H267.1M256.1,964.7H267.1" stroke="#14a270" stroke-width="1.3" fill="none"/>
<path d="M284.0,941.9V968.7M278.5,941.9H289.5M278.5,968.7H289.5" stroke="#14a270" stroke-width="1.3" fill="none"/>
<path d="M59.6,763.9 L61.7,764.1 L63.7,764.3 L65.8,764.5 L67.9,764.7 L70.0,765.0 L72.0,765.2 L74.1,765.5 L76.2,765.8 L78.3,766.1 L80.3,766.4 L82.4,766.7 L84.5,767.1 L86.6,767.5 L88.6,767.9 L90.7,768.3 L92.8,768.8 L94.9,769.2 L96.9,769.7 L99.0,770.3 L101.1,770.8 L103.2,771.4 L105.2,772.0 L107.3,772.7 L109.4,773.4 L111.5,774.1 L113.5,774.9 L115.6,775.7 L117.7,776.5 L119.8,777.4 L121.8,778.4 L123.9,779.3 L126.0,780.4 L128.1,781.5 L130.1,782.6 L132.2,783.8 L134.3,785.0 L136.3,786.3 L138.4,787.7 L140.5,789.1 L142.6,790.6 L144.6,792.2 L146.7,793.8 L148.8,795.4 L150.9,797.2 L152.9,799.0 L155.0,800.9 L157.1,802.8 L159.2,804.8 L161.2,806.9 L163.3,809.1 L165.4,811.3 L167.5,813.6 L169.5,815.9 L171.6,818.3 L173.7,820.8 L175.8,823.3 L177.8,825.9 L179.9,828.6 L182.0,831.2 L184.1,834.0 L186.1,836.7 L188.2,839.6 L190.3,842.4 L192.4,845.3 L194.4,848.2 L196.5,851.1 L198.6,854.0 L200.7,857.0 L202.7,859.9 L204.8,862.9 L206.9,865.8 L208.9,868.8 L211.0,871.7 L213.1,874.6 L215.2,877.4 L217.2,880.3 L219.3,883.1 L221.4,885.8 L223.5,888.6 L225.5,891.2 L227.6,893.9 L229.7,896.4 L231.8,898.9 L233.8,901.4 L235.9,903.8 L238.0,906.1 L240.1,908.3 L242.1,910.5 L244.2,912.7 L246.3,914.7 L248.4,916.7 L250.4,918.6 L252.5,920.5 L254.6,922.3 L256.7,924.0 L258.7,925.7 L260.8,927.3 L262.9,928.8 L265.0,930.2 L267.0,931.6 L269.1,933.0 L271.2,934.3 L273.3,935.5 L275.3,936.7 L277.4,937.8 L279.5,938.9 L281.5,939.9 L283.6,940.8 L285.7,941.8 L287.8,942.6 L289.8,943.5 L291.9,944.3 L294.0,945.0 L296.1,945.7 L298.1,946.4 L300.2,947.1 L302.3,947.7 L304.4,948.2 L306.4,948.8" fill="none" stroke="#14a270" stroke-width="2.4"/>
<path d="M59.6,764.3 L61.7,764.5 L63.7,764.8 L65.8,765.0 L67.9,765.3 L70.0,765.5 L72.0,765.8 L74.1,766.1 L76.2,766.4 L78.3,766.8 L80.3,767.2 L82.4,767.5 L84.5,767.9 L86.6,768.4 L88.6,768.8 L90.7,769.3 L92.8,769.8 L94.9,770.3 L96.9,770.9 L99.0,771.5 L101.1,772.1 L103.2,772.8 L105.2,773.5 L107.3,774.2 L109.4,775.0 L111.5,775.8 L113.5,776.7 L115.6,777.6 L117.7,778.5 L119.8,779.5 L121.8,780.5 L123.9,781.6 L126.0,782.8 L128.1,784.0 L130.1,785.2 L132.2,786.6 L134.3,787.9 L136.3,789.4 L138.4,790.9 L140.5,792.4 L142.6,794.0 L144.6,795.7 L146.7,797.5 L148.8,799.3 L150.9,801.2 L152.9,803.2 L155.0,805.2 L157.1,807.3 L159.2,809.4 L161.2,811.7 L163.3,814.0 L165.4,816.3 L167.5,818.7 L169.5,821.2 L171.6,823.8 L173.7,826.3 L175.8,829.0 L177.8,831.7 L179.9,834.4 L182.0,837.2 L184.1,840.0 L186.1,842.9 L188.2,845.8 L190.3,848.7 L192.4,851.6 L194.4,854.5 L196.5,857.5 L198.6,860.4 L200.7,863.4 L202.7,866.3 L204.8,869.3 L206.9,872.2 L208.9,875.1 L211.0,877.9 L213.1,880.7 L215.2,883.5 L217.2,886.3 L219.3,889.0 L221.4,891.7 L223.5,894.3 L225.5,896.8 L227.6,899.3 L229.7,901.8 L231.8,904.1 L233.8,906.5 L235.9,908.7 L238.0,910.9 L240.1,913.0 L242.1,915.1 L244.2,917.0 L246.3,919.0 L248.4,920.8 L250.4,922.6 L252.5,924.3 L254.6,925.9 L256.7,927.5 L258.7,929.0 L260.8,930.5 L262.9,931.9 L265.0,933.2 L267.0,934.5 L269.1,935.7 L271.2,936.9 L273.3,938.0 L275.3,939.0 L277.4,940.0 L279.5,941.0 L281.5,941.9 L283.6,942.8 L285.7,943.6 L287.8,944.4 L289.8,945.1 L291.9,945.8 L294.0,946.5 L296.1,947.2 L298.1,947.8 L300.2,948.3 L302.3,948.9 L304.4,949.4 L306.4,949.9" fill="none" stroke="#0c6fbb" stroke-width="2.4"/>
<circle cx="112.0" cy="757.8" r="5.6" fill="#14a270"/>
<circle cx="134.4" cy="798.0" r="5.6" fill="#14a270"/>
<circle cx="186.8" cy="823.9" r="5.6" fill="#14a270"/>
<circle cx="209.2" cy="880.0" r="5.6" fill="#14a270"/>
<circle cx="261.6" cy="933.9" r="5.6" fill="#14a270"/>
<circle cx="284.0" cy="952.9" r="5.6" fill="#14a270"/>
<circle cx="306.4" cy="967.8" r="5.6" fill="#14a270"/>
<circle cx="59.6" cy="760.7" r="5.6" fill="#0c6fbb"/>
<circle cx="112.0" cy="763.6" r="5.6" fill="#0c6fbb"/>
<circle cx="134.4" cy="804.9" r="5.6" fill="#0c6fbb"/>
<circle cx="186.8" cy="866.0" r="5.6" fill="#0c6fbb"/>
<circle cx="209.2" cy="859.1" r="5.6" fill="#0c6fbb"/>
<circle cx="261.6" cy="916.6" r="5.6" fill="#0c6fbb"/>
<circle cx="284.0" cy="943.0" r="5.6" fill="#0c6fbb"/>
<circle cx="306.4" cy="957.9" r="5.6" fill="#0c6fbb"/>
<line x1="65" y1="937.4" x2="93" y2="937.4" stroke="#4a8fcc" stroke-width="1.2" />
<circle cx="79" cy="937.4" r="5.4" fill="#0c6fbb"/>
<text x="100.5" y="942.1" font-size="13" text-anchor="start" fill="#111" font-weight="normal" font-style="normal" >Parental</text>
<line x1="65" y1="959.2" x2="93" y2="959.2" stroke="#4dbb93" stroke-width="1.2" />
<circle cx="79" cy="959.2" r="5.4" fill="#14a270"/>
<text x="100.5" y="963.9" font-size="13" text-anchor="start" fill="#111" font-weight="normal" font-style="normal" >Δ<tspan font-style="italic">DegP2</tspan></text>
<text x="355" y="708.5" font-size="22" text-anchor="start" fill="#000" font-weight="bold" font-style="normal" >e</text>
<path d="M454.20,724.20 L454.20,724.88 L454.22,725.55 L454.24,726.22 L454.27,726.88 L454.32,727.54 L454.37,728.20 L454.43,728.86 L454.51,729.51 L454.59,730.16 L454.69,730.80 L454.79,731.44 L454.91,732.08 L455.04,732.71 L455.18,733.34 L455.33,733.96 L455.49,734.58 L455.67,735.19 L455.86,735.80 L456.06,736.41 L456.27,737.01 L456.50,737.61 L456.74,738.20 L456.99,738.79 L457.26,739.37 L457.54,739.95 L457.83,740.53 L458.14,741.09 L458.46,741.66 L458.80,742.22 L459.15,742.77 L459.51,743.32 L459.89,743.86" fill="none" stroke="#111" stroke-width="1.3"/>
<path d="M463.00,747.50L456.77,743.73L459.75,743.32L460.88,740.54Z" fill="#111"/>
<path d="M467.00,751.20 L467.54,751.60 L468.08,752.00 L468.63,752.38 L469.18,752.75 L469.74,753.12 L470.30,753.47 L470.86,753.81 L471.43,754.15 L471.99,754.47 L472.56,754.78 L473.14,755.09 L473.72,755.38 L474.30,755.67 L474.88,755.94 L475.46,756.21 L476.05,756.46 L476.64,756.71 L477.23,756.94 L477.83,757.17 L478.42,757.38 L479.02,757.59 L479.62,757.78 L480.22,757.97 L480.83,758.14 L481.43,758.31 L482.04,758.47 L482.64,758.61 L483.25,758.75 L483.86,758.88 L484.47,758.99 L485.09,759.10 L485.70,759.20 L486.31,759.28 L486.93,759.36 L487.54,759.43 L488.15,759.49 L488.77,759.53 L489.38,759.57 L490.00,759.60" fill="none" stroke="#111" stroke-width="1.3"/>
<path d="M453.00,777.00 L454.00,776.27 L455.02,775.56 L456.04,774.85 L457.07,774.16 L458.11,773.47 L459.16,772.80 L460.22,772.13 L461.29,771.48 L462.37,770.84 L463.46,770.21 L464.57,769.59 L465.68,768.98 L466.81,768.39 L467.96,767.81 L469.12,767.23 L470.29,766.67 L471.47,766.13 L472.67,765.59 L473.89,765.07 L475.12,764.56 L476.36,764.06 L477.63,763.58 L478.91,763.11 L480.20,762.65 L481.52,762.21 L482.85,761.78 L484.20,761.36 L485.57,760.96 L486.96,760.57 L488.37,760.20 L489.80,759.84 L491.25,759.49 L492.72,759.16 L494.21,758.85 L495.72,758.55 L497.26,758.26" fill="none" stroke="#111" stroke-width="1.3"/>
<path d="M502.00,757.50L495.74,761.22L496.78,758.40L494.86,756.10Z" fill="#111"/>
<path d="M405.00,786.70 L405.54,786.70 L406.08,786.70 L406.63,786.70 L407.18,786.70 L407.74,786.70 L408.30,786.70 L408.86,786.70 L409.42,786.70 L409.98,786.70 L410.55,786.70 L411.12,786.70 L411.69,786.70 L412.27,786.70 L412.84,786.70 L413.42,786.70 L414.00,786.70 L414.57,786.70 L415.15,786.70 L415.73,786.70 L416.32,786.70 L416.90,786.70 L417.48,786.70 L418.06,786.70 L418.64,786.70 L419.22,786.70 L419.80,786.70 L420.38,786.70 L420.96,786.70 L421.53,786.70 L422.11,786.70" fill="none" stroke="#111" stroke-width="1.3"/>
<path d="M427.20,786.70L420.40,789.30L421.90,786.70L420.40,784.10Z" fill="#111"/>
<path d="M531.84,757.68 L532.53,757.80 L533.22,757.93 L533.91,758.06 L534.60,758.19 L535.29,758.33 L535.98,758.48 L536.67,758.63 L537.36,758.79 L538.04,758.95 L538.73,759.12 L539.41,759.29 L540.10,759.47 L540.78,759.65 L541.46,759.84 L542.14,760.03 L542.82,760.23 L543.50,760.43 L544.18,760.64 L544.85,760.85 L545.53,761.07 L546.20,761.29 L546.87,761.51 L547.54,761.74 L548.21,761.98 L548.88,762.21" fill="none" stroke="#111" stroke-width="1.3"/>
<path d="M553.50,764.00L546.22,764.05L548.54,762.14L548.05,759.18Z" fill="#111"/>
<path d="M527.00,757.00L534.11,755.46L532.24,757.80L533.33,760.60Z" fill="#111"/>
<path d="M583.40,783.58 L583.82,783.98 L584.23,784.38 L584.65,784.78 L585.07,785.18 L585.49,785.57 L585.90,785.96 L586.32,786.35 L586.74,786.74 L587.17,787.13 L587.59,787.52 L588.01,787.91 L588.44,788.29 L588.86,788.68 L589.29,789.06 L589.71,789.45 L590.14,789.84 L590.57,790.22 L591.00,790.61 L591.42,791.00 L591.85,791.39 L592.29,791.78" fill="none" stroke="#111" stroke-width="1.3"/>
<path d="M596.20,795.40L589.44,792.71L592.30,791.81L592.96,788.88Z" fill="#111"/>
<path d="M579.70,779.80L586.34,782.79L583.44,783.56L582.65,786.46Z" fill="#111"/>
<path d="M612.00,822.80 L612.15,823.28 L612.31,823.76 L612.46,824.24 L612.61,824.73 L612.77,825.22 L612.92,825.72 L613.07,826.22 L613.22,826.72 L613.38,827.22 L613.53,827.73 L613.68,828.23 L613.83,828.75 L613.97,829.26 L614.12,829.78 L614.27,830.30 L614.41,830.83 L614.56,831.36 L614.70,831.89 L614.84,832.42 L614.98,832.96 L615.12,833.50 L615.26,834.04 L615.39,834.58 L615.53,835.13 L615.66,835.68 L615.79,836.24 L615.92,836.79 L616.05,837.35 L616.17,837.92 L616.30,838.48" fill="none" stroke="#111" stroke-width="1.3"/>
<path d="M617.30,843.70L613.42,837.54L616.26,838.50L618.52,836.52Z" fill="#111"/>
<path d="M617.70,875.20 L617.60,876.57 L617.47,877.93 L617.33,879.29 L617.16,880.65 L616.98,882.00 L616.77,883.35 L616.55,884.69 L616.30,886.02 L616.03,887.35 L615.75,888.67 L615.44,889.99 L615.11,891.30 L614.76,892.60 L614.40,893.89 L614.01,895.17 L613.60,896.45 L613.18,897.71 L612.73,898.97 L612.26,900.22 L611.78,901.45 L611.28,902.68 L610.75,903.90 L610.21,905.10 L609.65,906.29 L609.07,907.47 L608.47,908.64 L607.85,909.79 L607.22,910.93 L606.56,912.06 L605.89,913.17 L605.19,914.27 L604.48,915.36 L603.75,916.42 L603.01,917.48 L602.24,918.52" fill="none" stroke="#111" stroke-width="1.3"/>
<path d="M599.00,922.50L601.14,915.54L602.27,918.33L605.24,918.75Z" fill="#111"/>
<path d="M570.88,947.62 L569.76,948.18 L568.65,948.73 L567.53,949.28 L566.40,949.82 L565.28,950.35 L564.15,950.88 L563.01,951.40 L561.88,951.91 L560.74,952.41 L559.59,952.91 L558.44,953.40 L557.29,953.88 L556.13,954.36 L554.97,954.83 L553.81,955.29 L552.64,955.74 L551.47,956.18 L550.29,956.62 L549.11,957.05 L547.92,957.47 L546.73,957.88 L545.53,958.29 L544.33,958.68 L543.12,959.07 L541.91,959.45 L540.69,959.82 L539.47,960.19 L538.24,960.54 L537.01,960.89 L535.77,961.23 L534.53,961.56" fill="none" stroke="#111" stroke-width="1.3"/>
<path d="M529.50,962.80L535.45,958.61L534.64,961.50L536.73,963.65Z" fill="#111"/>
<path d="M575.30,945.30L570.45,950.73L570.59,947.73L568.06,946.11Z" fill="#111"/>
<path d="M456.77,946.96 L457.83,947.58 L458.90,948.19 L459.97,948.78 L461.05,949.37 L462.14,949.94 L463.23,950.51 L464.32,951.07 L465.43,951.61 L466.54,952.15 L467.66,952.67 L468.78,953.19 L469.91,953.70 L471.05,954.20 L472.20,954.69 L473.35,955.16 L474.50,955.63 L475.67,956.09 L476.84,956.54 L478.02,956.98 L479.20,957.42 L480.39,957.84 L481.59,958.25 L482.80,958.66 L484.01,959.05 L485.23,959.44 L486.45,959.81 L487.69,960.18 L488.93,960.54 L490.17,960.89 L491.43,961.23 L492.69,961.56" fill="none" stroke="#111" stroke-width="1.3"/>
<path d="M497.80,962.80L490.57,963.67L492.66,961.51L491.84,958.62Z" fill="#111"/>
<path d="M452.60,944.40L459.77,945.67L457.14,947.13L457.09,950.13Z" fill="#111"/>
<path d="M411.99,880.91 L412.21,882.22 L412.45,883.52 L412.71,884.82 L413.00,886.11 L413.30,887.39 L413.61,888.67 L413.95,889.94 L414.31,891.19 L414.68,892.44 L415.07,893.69 L415.48,894.92 L415.91,896.14 L416.35,897.36 L416.81,898.56 L417.29,899.76 L417.79,900.94 L418.30,902.12 L418.82,903.28 L419.37,904.43 L419.92,905.57 L420.50,906.70 L421.09,907.82 L421.69,908.93 L422.31,910.02 L422.94,911.11 L423.58,912.18 L424.24,913.23 L424.92,914.28 L425.61,915.31 L426.31,916.33 L427.02,917.33" fill="none" stroke="#111" stroke-width="1.3"/>
<path d="M430.00,921.20L423.85,917.30L426.83,916.95L428.02,914.19Z" fill="#111"/>
<path d="M411.30,875.60L414.85,881.95L412.06,880.84L409.71,882.70Z" fill="#111"/>
<path d="M428.91,802.06 L428.27,803.10 L427.63,804.14 L427.00,805.20 L426.37,806.26 L425.75,807.33 L425.14,808.41 L424.53,809.50 L423.93,810.59 L423.34,811.70 L422.76,812.81 L422.18,813.93 L421.62,815.07 L421.06,816.21 L420.51,817.36 L419.98,818.52 L419.45,819.69 L418.94,820.86 L418.44,822.05 L417.95,823.25 L417.47,824.46 L417.01,825.68 L416.56,826.90 L416.12,828.14 L415.70,829.39 L415.30,830.65 L414.91,831.91 L414.54,833.19 L414.18,834.48 L413.84,835.78 L413.52,837.09 L413.22,838.41" fill="none" stroke="#111" stroke-width="1.3"/>
<path d="M412.20,843.80L410.97,836.63L413.23,838.60L416.07,837.63Z" fill="#111"/>
<path d="M431.50,798.00L430.08,805.14L428.68,802.48L425.68,802.37Z" fill="#111"/>
<path d="M634.99,866.72 L636.38,867.20 L637.76,867.73 L639.13,868.29 L640.48,868.90 L641.82,869.55 L643.14,870.23 L644.43,870.96 L645.71,871.72 L646.96,872.51 L648.19,873.35 L649.40,874.22 L650.58,875.12 L651.73,876.06 L652.86,877.04 L653.95,878.05 L655.02,879.09 L656.05,880.16 L657.04,881.26 L658.01,882.40 L658.93,883.56 L659.82,884.76 L660.67,885.99 L661.48,887.24 L662.25,888.52 L662.97,889.83 L663.66,891.17 L664.29,892.53 L664.88,893.92 L665.42,895.33 L665.92,896.77 L666.36,898.23" fill="none" stroke="#111" stroke-width="1.3"/>
<path d="M667.60,904.30L663.58,898.23L666.44,899.13L668.65,897.10Z" fill="#111"/>
<path d="M629.30,865.20L636.55,864.55L634.40,866.64L635.14,869.55Z" fill="#111"/>
<path d="M675.00,851.15 L675.00,852.69 L675.00,854.23 L675.00,855.77 L675.00,857.30 L675.00,858.84 L675.00,860.37 L675.00,861.91 L675.00,863.44 L675.00,864.97 L675.00,866.51 L675.00,868.04 L675.00,869.57 L675.00,871.10 L675.00,872.62 L675.00,874.15 L675.00,875.67 L675.00,877.20 L675.00,878.72 L675.00,880.24 L675.00,881.76 L675.00,883.28 L675.00,884.79 L675.00,886.31 L675.00,887.82 L675.00,889.33 L675.00,890.84 L675.00,892.34 L675.00,893.84 L675.00,895.35 L675.00,896.84 L675.00,898.34" fill="none" stroke="#333" stroke-width="1.2"/>
<path d="M675.00,904.30L672.40,897.50L675.00,899.00L677.60,897.50Z" fill="#333"/>
<path d="M675.00,845.00L677.60,851.80L675.00,850.30L672.40,851.80Z" fill="#333"/>
<path d="M668.20,932.90 L668.12,934.51 L667.98,936.09 L667.78,937.65 L667.53,939.18 L667.22,940.68 L666.86,942.15 L666.44,943.59 L665.97,945.00 L665.45,946.38 L664.88,947.73 L664.26,949.05 L663.59,950.34 L662.87,951.59 L662.10,952.81 L661.29,953.99 L660.43,955.14 L659.53,956.26 L658.58,957.34 L657.59,958.38 L656.55,959.39 L655.48,960.35 L654.36,961.28 L653.20,962.18 L652.00,963.03 L650.77,963.84 L649.50,964.61 L648.19,965.34 L646.84,966.03 L645.46,966.68 L644.04,967.28 L642.60,967.84 L641.11,968.36 L639.60,968.83 L638.06,969.26 L636.48,969.64 L634.88,969.98" fill="none" stroke="#111" stroke-width="1.3"/>
<path d="M629.90,970.70L636.14,966.96L635.12,969.78L637.05,972.08Z" fill="#111"/>
<path d="M601.00,970.70 L599.23,970.70 L597.45,970.70 L595.66,970.70 L593.86,970.70 L592.06,970.70 L590.26,970.70 L588.45,970.70 L586.63,970.70 L584.81,970.70 L582.98,970.70 L581.15,970.70 L579.32,970.70 L577.48,970.70 L575.64,970.70 L573.80,970.70 L571.96,970.70 L570.11,970.70 L568.27,970.70 L566.42,970.70 L564.58,970.70 L562.73,970.70 L560.89,970.70 L559.04,970.70 L557.20,970.70 L555.36,970.70 L553.52,970.70 L551.68,970.70 L549.85,970.70 L548.02,970.70 L546.19,970.70 L544.37,970.70 L542.55,970.70 L540.74,970.70 L538.94,970.70 L537.14,970.70 L535.34,970.70" fill="none" stroke="#111" stroke-width="1.2" stroke-dasharray="4.2,3"/>
<path d="M530.00,970.70L536.80,968.10L535.30,970.70L536.80,973.30Z" fill="#111"/>
<circle cx="454.3" cy="712.2" r="9.4" fill="#eea081" stroke="#2a2a2a" stroke-width="1.1"/>
<polygon points="451.78,709.65 452.48,711.43 454.39,711.55 452.92,712.77 453.39,714.62 451.78,713.60 450.16,714.62 450.63,712.77 449.16,711.55 451.07,711.43" fill="#0a0a0a"/>
<polygon points="456.82,709.65 457.53,711.43 459.44,711.55 457.97,712.77 458.44,714.62 456.82,713.60 455.21,714.62 455.68,712.77 454.21,711.55 456.12,711.43" fill="#0a0a0a"/>
<circle cx="514.5" cy="757.7" r="9.4" fill="#f8d4c1" stroke="#2a2a2a" stroke-width="1.1"/>
<circle cx="566.3" cy="772.1" r="9.4" fill="#dbe4eb" stroke="#2a2a2a" stroke-width="1.1"/>
<circle cx="602.9" cy="808.8" r="9.6" fill="#8e8e8e"/>
<circle cx="617.5" cy="857.8" r="9.4" fill="#f1ddd3" stroke="#2a2a2a" stroke-width="1.1"/>
<circle cx="674.6" cy="830.7" r="9.4" fill="#ea9478" stroke="#2a2a2a" stroke-width="1.1"/>
<polygon points="669.55,828.15 670.26,829.93 672.17,830.05 670.69,831.27 671.17,833.12 669.55,832.10 667.93,833.12 668.41,831.27 666.93,830.05 668.84,829.93" fill="#0a0a0a"/>
<polygon points="674.60,828.15 675.31,829.93 677.22,830.05 675.74,831.27 676.22,833.12 674.60,832.10 672.98,833.12 673.46,831.27 671.98,830.05 673.89,829.93" fill="#0a0a0a"/>
<polygon points="679.65,828.15 680.36,829.93 682.27,830.05 680.79,831.27 681.27,833.12 679.65,832.10 678.03,833.12 678.51,831.27 677.03,830.05 678.94,829.93" fill="#0a0a0a"/>
<circle cx="671.3" cy="918.8" r="9.4" fill="#dbe3ea" stroke="#2a2a2a" stroke-width="1.1"/>
<circle cx="616.6" cy="970" r="9.4" fill="#9ccae2" stroke="#2a2a2a" stroke-width="1.1"/>
<polygon points="611.55,967.45 612.26,969.23 614.17,969.35 612.69,970.57 613.17,972.42 611.55,971.40 609.93,972.42 610.41,970.57 608.93,969.35 610.84,969.23" fill="#0a0a0a"/>
<polygon points="616.60,967.45 617.31,969.23 619.22,969.35 617.74,970.57 618.22,972.42 616.60,971.40 614.98,972.42 615.46,970.57 613.98,969.35 615.89,969.23" fill="#0a0a0a"/>
<polygon points="621.65,967.45 622.36,969.23 624.27,969.35 622.79,970.57 623.27,972.42 621.65,971.40 620.03,972.42 620.51,970.57 619.03,969.35 620.94,969.23" fill="#0a0a0a"/>
<circle cx="587.7" cy="932.4" r="9.6" fill="#8e8e8e"/>
<circle cx="514.7" cy="965.1" r="9.4" fill="#9ccae2" stroke="#2a2a2a" stroke-width="1.1"/>
<polygon points="509.65,962.55 510.36,964.33 512.27,964.45 510.79,965.67 511.27,967.52 509.65,966.50 508.03,967.52 508.51,965.67 507.03,964.45 508.94,964.33" fill="#0a0a0a"/>
<polygon points="514.70,962.55 515.41,964.33 517.32,964.45 515.84,965.67 516.32,967.52 514.70,966.50 513.08,967.52 513.56,965.67 512.08,964.45 513.99,964.33" fill="#0a0a0a"/>
<polygon points="519.75,962.55 520.46,964.33 522.37,964.45 520.89,965.67 521.37,967.52 519.75,966.50 518.13,967.52 518.61,965.67 517.13,964.45 519.04,964.33" fill="#0a0a0a"/>
<circle cx="440.3" cy="932.1" r="9.4" fill="#efdcd1" stroke="#2a2a2a" stroke-width="1.1"/>
<circle cx="410.4" cy="859.6" r="9.4" fill="#8cc1e0" stroke="#2a2a2a" stroke-width="1.1"/>
<polygon points="407.88,857.05 408.58,858.83 410.49,858.95 409.02,860.17 409.49,862.02 407.88,861.00 406.26,862.02 406.73,860.17 405.26,858.95 407.17,858.83" fill="#0a0a0a"/>
<polygon points="412.92,857.05 413.63,858.83 415.54,858.95 414.07,860.17 414.54,862.02 412.92,861.00 411.31,862.02 411.78,860.17 410.31,858.95 412.22,858.83" fill="#0a0a0a"/>
<circle cx="440.6" cy="786.6" r="9.6" fill="#8e8e8e"/>
<circle cx="391.8" cy="787.7" r="9.4" fill="#f1ddd3" stroke="#2a2a2a" stroke-width="1.1"/>
<text x="441" y="717" font-size="13.1" text-anchor="end" fill="#111" font-weight="normal" font-style="normal" >Pyruvate</text>
<text x="516" y="743" font-size="13.1" text-anchor="middle" fill="#111" font-weight="normal" font-style="normal" >Citrate</text>
<text x="575.4" y="764.1" font-size="13.1" text-anchor="start" fill="#111" font-weight="normal" font-style="normal" >cis-aconitate</text>
<text x="630.8" y="862" font-size="13.1" text-anchor="start" fill="#111" font-weight="normal" font-style="normal" >α-KG</text>
<text x="665.5" y="818.3" font-size="13.1" text-anchor="start" fill="#111" font-weight="normal" font-style="normal" >Gln</text>
<text x="661.5" y="923" font-size="13.1" text-anchor="end" fill="#111" font-weight="normal" font-style="normal" >Glu</text>
<text x="618" y="993.5" font-size="13.1" text-anchor="middle" fill="#111" font-weight="normal" font-style="normal" >GABA</text>
<text x="516.2" y="987.8" font-size="13.1" text-anchor="middle" fill="#111" font-weight="normal" font-style="normal" >Succinate</text>
<text x="428.6" y="937.3" font-size="13.1" text-anchor="end" fill="#111" font-weight="normal" font-style="normal" >Fumarate</text>
<text x="397.8" y="864" font-size="13.1" text-anchor="end" fill="#111" font-weight="normal" font-style="normal" >Malate</text>
<text x="378" y="792" font-size="13.1" text-anchor="end" fill="#111" font-weight="normal" font-style="normal" >Asp</text>
<defs><linearGradient id="cb" x1="0" x2="1" y1="0" y2="0"><stop offset="0" stop-color="#6aaed6"/><stop offset="0.2" stop-color="#a3c9e2"/><stop offset="0.42" stop-color="#dfe6ec"/><stop offset="0.55" stop-color="#f6dccf"/><stop offset="0.7" stop-color="#f5c3a8"/><stop offset="0.85" stop-color="#ea9a7c"/><stop offset="1" stop-color="#d66b50"/></linearGradient></defs>
<rect x="469.5" y="864" width="96" height="22.3" fill="url(#cb)" stroke="#333" stroke-width="1"/>
<text x="517.4" y="840.2" font-size="13.1" text-anchor="middle" fill="#111" font-weight="normal" font-style="normal" >Metabolite ratio</text>
<text x="517.4" y="856.2" font-size="13.1" text-anchor="middle" fill="#111">(Δ<tspan font-style="italic">DegP2</tspan>/parental)</text>
<text x="469.5" y="903.3" font-size="13.1" text-anchor="start" fill="#111" font-weight="normal" font-style="normal" >0.7</text>
<text x="565" y="903.3" font-size="13.1" text-anchor="end" fill="#111" font-weight="normal" font-style="normal" >1.5</text>
</svg></body></html>
